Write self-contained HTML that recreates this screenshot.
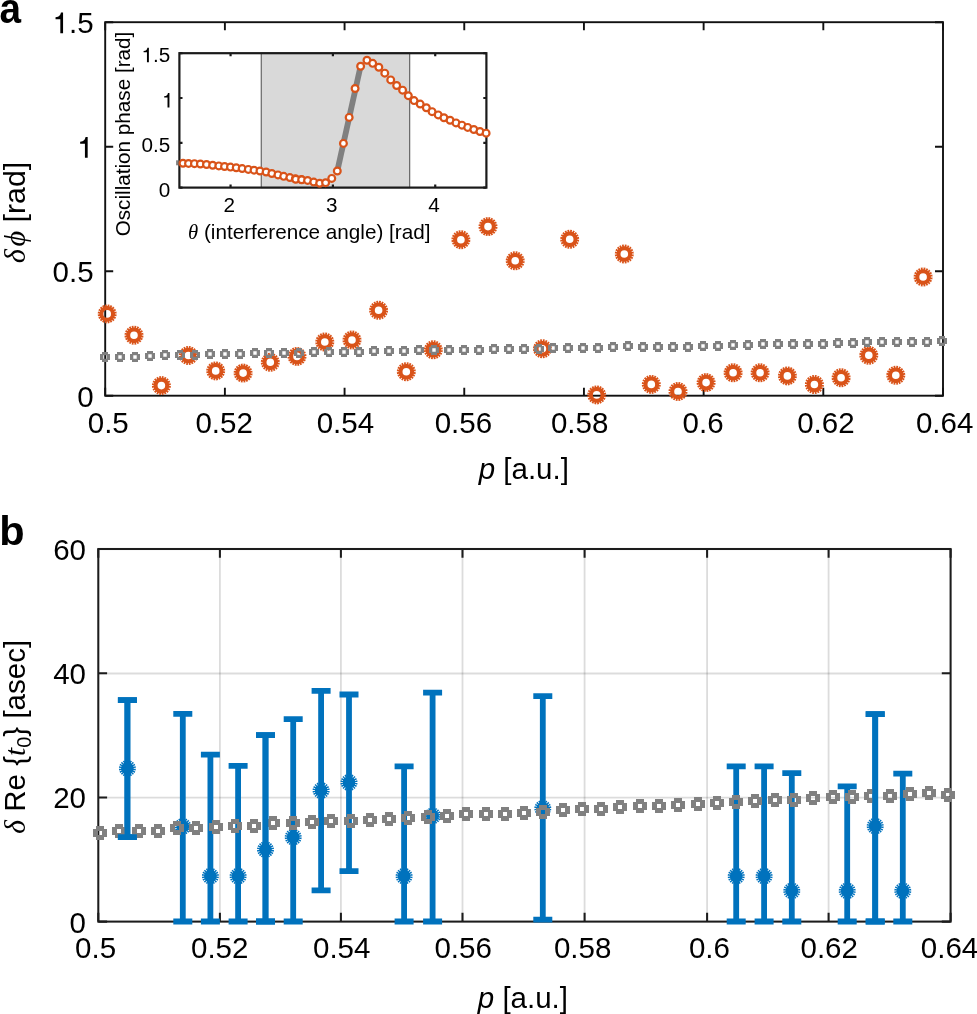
<!DOCTYPE html>
<html><head><meta charset="utf-8"><style>
html,body{margin:0;padding:0;background:#fff;width:977px;height:1014px;overflow:hidden;}
svg{display:block;will-change:transform;}
</style></head><body>
<svg width="977" height="1014" viewBox="0 0 977 1014">
<rect width="977" height="1014" fill="#fff"/>
<g fill="none" stroke="#111" stroke-width="1.9" stroke-linecap="square">
<rect x="105.2" y="22.2" width="837.8" height="373.5"/>
<path d="M105.2,395.7v-8 M105.2,22.2v8 M224.89,395.7v-8 M224.89,22.2v8 M344.57,395.7v-8 M344.57,22.2v8 M464.26,395.7v-8 M464.26,22.2v8 M583.94,395.7v-8 M583.94,22.2v8 M703.63,395.7v-8 M703.63,22.2v8 M823.31,395.7v-8 M823.31,22.2v8 M943,395.7v-8 M943,22.2v8 M105.2,395.7h8 M943,395.7h-8 M105.2,271.2h8 M943,271.2h-8 M105.2,146.7h8 M943,146.7h-8 M105.2,22.2h8 M943,22.2h-8 " stroke-linecap="butt"/>
</g>
<path d="M116.69,314.41 L116.38,316.35 L114.74,315.91 L114.48,316.70 L116.07,317.31 L115.17,319.07 L113.75,318.14 L113.26,318.82 L114.58,319.89 L113.19,321.28 L112.12,319.96 L111.44,320.45 L112.37,321.87 L110.61,322.77 L110.00,321.18 L109.21,321.44 L109.65,323.08 L107.71,323.39 L107.62,321.69 L106.78,321.69 L106.69,323.39 L104.75,323.08 L105.19,321.44 L104.40,321.18 L103.79,322.77 L102.03,321.87 L102.96,320.45 L102.28,319.96 L101.21,321.28 L99.82,319.89 L101.14,318.82 L100.65,318.14 L99.23,319.07 L98.33,317.31 L99.92,316.70 L99.66,315.91 L98.02,316.35 L97.71,314.41 L99.41,314.32 L99.41,313.48 L97.71,313.39 L98.02,311.45 L99.66,311.89 L99.92,311.10 L98.33,310.49 L99.23,308.73 L100.65,309.66 L101.14,308.98 L99.82,307.91 L101.21,306.52 L102.28,307.84 L102.96,307.35 L102.03,305.93 L103.79,305.03 L104.40,306.62 L105.19,306.36 L104.75,304.72 L106.69,304.41 L106.78,306.11 L107.62,306.11 L107.71,304.41 L109.65,304.72 L109.21,306.36 L110.00,306.62 L110.61,305.03 L112.37,305.93 L111.44,307.35 L112.12,307.84 L113.19,306.52 L114.58,307.91 L113.26,308.98 L113.75,309.66 L115.17,308.73 L116.07,310.49 L114.48,311.10 L114.74,311.89 L116.38,311.45 L116.69,313.39 L114.99,313.48 L114.99,314.32 Z M103.40,313.90 a3.80,3.80 0 1,0 7.60,0 a3.80,3.80 0 1,0 -7.60,0 Z" fill="#D95319" fill-rule="evenodd"/>
<path d="M143.49,335.71 L143.18,337.65 L141.54,337.21 L141.28,338.00 L142.87,338.61 L141.97,340.37 L140.55,339.44 L140.06,340.12 L141.38,341.19 L139.99,342.58 L138.92,341.26 L138.24,341.75 L139.17,343.17 L137.41,344.07 L136.80,342.48 L136.01,342.74 L136.45,344.38 L134.51,344.69 L134.42,342.99 L133.58,342.99 L133.49,344.69 L131.55,344.38 L131.99,342.74 L131.20,342.48 L130.59,344.07 L128.83,343.17 L129.76,341.75 L129.08,341.26 L128.01,342.58 L126.62,341.19 L127.94,340.12 L127.45,339.44 L126.03,340.37 L125.13,338.61 L126.72,338.00 L126.46,337.21 L124.82,337.65 L124.51,335.71 L126.21,335.62 L126.21,334.78 L124.51,334.69 L124.82,332.75 L126.46,333.19 L126.72,332.40 L125.13,331.79 L126.03,330.03 L127.45,330.96 L127.94,330.28 L126.62,329.21 L128.01,327.82 L129.08,329.14 L129.76,328.65 L128.83,327.23 L130.59,326.33 L131.20,327.92 L131.99,327.66 L131.55,326.02 L133.49,325.71 L133.58,327.41 L134.42,327.41 L134.51,325.71 L136.45,326.02 L136.01,327.66 L136.80,327.92 L137.41,326.33 L139.17,327.23 L138.24,328.65 L138.92,329.14 L139.99,327.82 L141.38,329.21 L140.06,330.28 L140.55,330.96 L141.97,330.03 L142.87,331.79 L141.28,332.40 L141.54,333.19 L143.18,332.75 L143.49,334.69 L141.79,334.78 L141.79,335.62 Z M130.20,335.20 a3.80,3.80 0 1,0 7.60,0 a3.80,3.80 0 1,0 -7.60,0 Z" fill="#D95319" fill-rule="evenodd"/>
<path d="M170.89,386.11 L170.58,388.05 L168.94,387.61 L168.68,388.40 L170.27,389.01 L169.37,390.77 L167.95,389.84 L167.46,390.52 L168.78,391.59 L167.39,392.98 L166.32,391.66 L165.64,392.15 L166.57,393.57 L164.81,394.47 L164.20,392.88 L163.41,393.14 L163.85,394.78 L161.91,395.09 L161.82,393.39 L160.98,393.39 L160.89,395.09 L158.95,394.78 L159.39,393.14 L158.60,392.88 L157.99,394.47 L156.23,393.57 L157.16,392.15 L156.48,391.66 L155.41,392.98 L154.02,391.59 L155.34,390.52 L154.85,389.84 L153.43,390.77 L152.53,389.01 L154.12,388.40 L153.86,387.61 L152.22,388.05 L151.91,386.11 L153.61,386.02 L153.61,385.18 L151.91,385.09 L152.22,383.15 L153.86,383.59 L154.12,382.80 L152.53,382.19 L153.43,380.43 L154.85,381.36 L155.34,380.68 L154.02,379.61 L155.41,378.22 L156.48,379.54 L157.16,379.05 L156.23,377.63 L157.99,376.73 L158.60,378.32 L159.39,378.06 L158.95,376.42 L160.89,376.11 L160.98,377.81 L161.82,377.81 L161.91,376.11 L163.85,376.42 L163.41,378.06 L164.20,378.32 L164.81,376.73 L166.57,377.63 L165.64,379.05 L166.32,379.54 L167.39,378.22 L168.78,379.61 L167.46,380.68 L167.95,381.36 L169.37,380.43 L170.27,382.19 L168.68,382.80 L168.94,383.59 L170.58,383.15 L170.89,385.09 L169.19,385.18 L169.19,386.02 Z M157.60,385.60 a3.80,3.80 0 1,0 7.60,0 a3.80,3.80 0 1,0 -7.60,0 Z" fill="#D95319" fill-rule="evenodd"/>
<path d="M197.89,356.01 L197.58,357.95 L195.94,357.51 L195.68,358.30 L197.27,358.91 L196.37,360.67 L194.95,359.74 L194.46,360.42 L195.78,361.49 L194.39,362.88 L193.32,361.56 L192.64,362.05 L193.57,363.47 L191.81,364.37 L191.20,362.78 L190.41,363.04 L190.85,364.68 L188.91,364.99 L188.82,363.29 L187.98,363.29 L187.89,364.99 L185.95,364.68 L186.39,363.04 L185.60,362.78 L184.99,364.37 L183.23,363.47 L184.16,362.05 L183.48,361.56 L182.41,362.88 L181.02,361.49 L182.34,360.42 L181.85,359.74 L180.43,360.67 L179.53,358.91 L181.12,358.30 L180.86,357.51 L179.22,357.95 L178.91,356.01 L180.61,355.92 L180.61,355.08 L178.91,354.99 L179.22,353.05 L180.86,353.49 L181.12,352.70 L179.53,352.09 L180.43,350.33 L181.85,351.26 L182.34,350.58 L181.02,349.51 L182.41,348.12 L183.48,349.44 L184.16,348.95 L183.23,347.53 L184.99,346.63 L185.60,348.22 L186.39,347.96 L185.95,346.32 L187.89,346.01 L187.98,347.71 L188.82,347.71 L188.91,346.01 L190.85,346.32 L190.41,347.96 L191.20,348.22 L191.81,346.63 L193.57,347.53 L192.64,348.95 L193.32,349.44 L194.39,348.12 L195.78,349.51 L194.46,350.58 L194.95,351.26 L196.37,350.33 L197.27,352.09 L195.68,352.70 L195.94,353.49 L197.58,353.05 L197.89,354.99 L196.19,355.08 L196.19,355.92 Z M184.60,355.50 a3.80,3.80 0 1,0 7.60,0 a3.80,3.80 0 1,0 -7.60,0 Z" fill="#D95319" fill-rule="evenodd"/>
<path d="M225.19,371.41 L224.88,373.35 L223.24,372.91 L222.98,373.70 L224.57,374.31 L223.67,376.07 L222.25,375.14 L221.76,375.82 L223.08,376.89 L221.69,378.28 L220.62,376.96 L219.94,377.45 L220.87,378.87 L219.11,379.77 L218.50,378.18 L217.71,378.44 L218.15,380.08 L216.21,380.39 L216.12,378.69 L215.28,378.69 L215.19,380.39 L213.25,380.08 L213.69,378.44 L212.90,378.18 L212.29,379.77 L210.53,378.87 L211.46,377.45 L210.78,376.96 L209.71,378.28 L208.32,376.89 L209.64,375.82 L209.15,375.14 L207.73,376.07 L206.83,374.31 L208.42,373.70 L208.16,372.91 L206.52,373.35 L206.21,371.41 L207.91,371.32 L207.91,370.48 L206.21,370.39 L206.52,368.45 L208.16,368.89 L208.42,368.10 L206.83,367.49 L207.73,365.73 L209.15,366.66 L209.64,365.98 L208.32,364.91 L209.71,363.52 L210.78,364.84 L211.46,364.35 L210.53,362.93 L212.29,362.03 L212.90,363.62 L213.69,363.36 L213.25,361.72 L215.19,361.41 L215.28,363.11 L216.12,363.11 L216.21,361.41 L218.15,361.72 L217.71,363.36 L218.50,363.62 L219.11,362.03 L220.87,362.93 L219.94,364.35 L220.62,364.84 L221.69,363.52 L223.08,364.91 L221.76,365.98 L222.25,366.66 L223.67,365.73 L224.57,367.49 L222.98,368.10 L223.24,368.89 L224.88,368.45 L225.19,370.39 L223.49,370.48 L223.49,371.32 Z M211.90,370.90 a3.80,3.80 0 1,0 7.60,0 a3.80,3.80 0 1,0 -7.60,0 Z" fill="#D95319" fill-rule="evenodd"/>
<path d="M252.59,373.61 L252.28,375.55 L250.64,375.11 L250.38,375.90 L251.97,376.51 L251.07,378.27 L249.65,377.34 L249.16,378.02 L250.48,379.09 L249.09,380.48 L248.02,379.16 L247.34,379.65 L248.27,381.07 L246.51,381.97 L245.90,380.38 L245.11,380.64 L245.55,382.28 L243.61,382.59 L243.52,380.89 L242.68,380.89 L242.59,382.59 L240.65,382.28 L241.09,380.64 L240.30,380.38 L239.69,381.97 L237.93,381.07 L238.86,379.65 L238.18,379.16 L237.11,380.48 L235.72,379.09 L237.04,378.02 L236.55,377.34 L235.13,378.27 L234.23,376.51 L235.82,375.90 L235.56,375.11 L233.92,375.55 L233.61,373.61 L235.31,373.52 L235.31,372.68 L233.61,372.59 L233.92,370.65 L235.56,371.09 L235.82,370.30 L234.23,369.69 L235.13,367.93 L236.55,368.86 L237.04,368.18 L235.72,367.11 L237.11,365.72 L238.18,367.04 L238.86,366.55 L237.93,365.13 L239.69,364.23 L240.30,365.82 L241.09,365.56 L240.65,363.92 L242.59,363.61 L242.68,365.31 L243.52,365.31 L243.61,363.61 L245.55,363.92 L245.11,365.56 L245.90,365.82 L246.51,364.23 L248.27,365.13 L247.34,366.55 L248.02,367.04 L249.09,365.72 L250.48,367.11 L249.16,368.18 L249.65,368.86 L251.07,367.93 L251.97,369.69 L250.38,370.30 L250.64,371.09 L252.28,370.65 L252.59,372.59 L250.89,372.68 L250.89,373.52 Z M239.30,373.10 a3.80,3.80 0 1,0 7.60,0 a3.80,3.80 0 1,0 -7.60,0 Z" fill="#D95319" fill-rule="evenodd"/>
<path d="M279.79,362.81 L279.48,364.75 L277.84,364.31 L277.58,365.10 L279.17,365.71 L278.27,367.47 L276.85,366.54 L276.36,367.22 L277.68,368.29 L276.29,369.68 L275.22,368.36 L274.54,368.85 L275.47,370.27 L273.71,371.17 L273.10,369.58 L272.31,369.84 L272.75,371.48 L270.81,371.79 L270.72,370.09 L269.88,370.09 L269.79,371.79 L267.85,371.48 L268.29,369.84 L267.50,369.58 L266.89,371.17 L265.13,370.27 L266.06,368.85 L265.38,368.36 L264.31,369.68 L262.92,368.29 L264.24,367.22 L263.75,366.54 L262.33,367.47 L261.43,365.71 L263.02,365.10 L262.76,364.31 L261.12,364.75 L260.81,362.81 L262.51,362.72 L262.51,361.88 L260.81,361.79 L261.12,359.85 L262.76,360.29 L263.02,359.50 L261.43,358.89 L262.33,357.13 L263.75,358.06 L264.24,357.38 L262.92,356.31 L264.31,354.92 L265.38,356.24 L266.06,355.75 L265.13,354.33 L266.89,353.43 L267.50,355.02 L268.29,354.76 L267.85,353.12 L269.79,352.81 L269.88,354.51 L270.72,354.51 L270.81,352.81 L272.75,353.12 L272.31,354.76 L273.10,355.02 L273.71,353.43 L275.47,354.33 L274.54,355.75 L275.22,356.24 L276.29,354.92 L277.68,356.31 L276.36,357.38 L276.85,358.06 L278.27,357.13 L279.17,358.89 L277.58,359.50 L277.84,360.29 L279.48,359.85 L279.79,361.79 L278.09,361.88 L278.09,362.72 Z M266.50,362.30 a3.80,3.80 0 1,0 7.60,0 a3.80,3.80 0 1,0 -7.60,0 Z" fill="#D95319" fill-rule="evenodd"/>
<path d="M306.49,356.91 L306.18,358.85 L304.54,358.41 L304.28,359.20 L305.87,359.81 L304.97,361.57 L303.55,360.64 L303.06,361.32 L304.38,362.39 L302.99,363.78 L301.92,362.46 L301.24,362.95 L302.17,364.37 L300.41,365.27 L299.80,363.68 L299.01,363.94 L299.45,365.58 L297.51,365.89 L297.42,364.19 L296.58,364.19 L296.49,365.89 L294.55,365.58 L294.99,363.94 L294.20,363.68 L293.59,365.27 L291.83,364.37 L292.76,362.95 L292.08,362.46 L291.01,363.78 L289.62,362.39 L290.94,361.32 L290.45,360.64 L289.03,361.57 L288.13,359.81 L289.72,359.20 L289.46,358.41 L287.82,358.85 L287.51,356.91 L289.21,356.82 L289.21,355.98 L287.51,355.89 L287.82,353.95 L289.46,354.39 L289.72,353.60 L288.13,352.99 L289.03,351.23 L290.45,352.16 L290.94,351.48 L289.62,350.41 L291.01,349.02 L292.08,350.34 L292.76,349.85 L291.83,348.43 L293.59,347.53 L294.20,349.12 L294.99,348.86 L294.55,347.22 L296.49,346.91 L296.58,348.61 L297.42,348.61 L297.51,346.91 L299.45,347.22 L299.01,348.86 L299.80,349.12 L300.41,347.53 L302.17,348.43 L301.24,349.85 L301.92,350.34 L302.99,349.02 L304.38,350.41 L303.06,351.48 L303.55,352.16 L304.97,351.23 L305.87,352.99 L304.28,353.60 L304.54,354.39 L306.18,353.95 L306.49,355.89 L304.79,355.98 L304.79,356.82 Z M293.20,356.40 a3.80,3.80 0 1,0 7.60,0 a3.80,3.80 0 1,0 -7.60,0 Z" fill="#D95319" fill-rule="evenodd"/>
<path d="M334.29,342.51 L333.98,344.45 L332.34,344.01 L332.08,344.80 L333.67,345.41 L332.77,347.17 L331.35,346.24 L330.86,346.92 L332.18,347.99 L330.79,349.38 L329.72,348.06 L329.04,348.55 L329.97,349.97 L328.21,350.87 L327.60,349.28 L326.81,349.54 L327.25,351.18 L325.31,351.49 L325.22,349.79 L324.38,349.79 L324.29,351.49 L322.35,351.18 L322.79,349.54 L322.00,349.28 L321.39,350.87 L319.63,349.97 L320.56,348.55 L319.88,348.06 L318.81,349.38 L317.42,347.99 L318.74,346.92 L318.25,346.24 L316.83,347.17 L315.93,345.41 L317.52,344.80 L317.26,344.01 L315.62,344.45 L315.31,342.51 L317.01,342.42 L317.01,341.58 L315.31,341.49 L315.62,339.55 L317.26,339.99 L317.52,339.20 L315.93,338.59 L316.83,336.83 L318.25,337.76 L318.74,337.08 L317.42,336.01 L318.81,334.62 L319.88,335.94 L320.56,335.45 L319.63,334.03 L321.39,333.13 L322.00,334.72 L322.79,334.46 L322.35,332.82 L324.29,332.51 L324.38,334.21 L325.22,334.21 L325.31,332.51 L327.25,332.82 L326.81,334.46 L327.60,334.72 L328.21,333.13 L329.97,334.03 L329.04,335.45 L329.72,335.94 L330.79,334.62 L332.18,336.01 L330.86,337.08 L331.35,337.76 L332.77,336.83 L333.67,338.59 L332.08,339.20 L332.34,339.99 L333.98,339.55 L334.29,341.49 L332.59,341.58 L332.59,342.42 Z M321.00,342.00 a3.80,3.80 0 1,0 7.60,0 a3.80,3.80 0 1,0 -7.60,0 Z" fill="#D95319" fill-rule="evenodd"/>
<path d="M361.49,340.51 L361.18,342.45 L359.54,342.01 L359.28,342.80 L360.87,343.41 L359.97,345.17 L358.55,344.24 L358.06,344.92 L359.38,345.99 L357.99,347.38 L356.92,346.06 L356.24,346.55 L357.17,347.97 L355.41,348.87 L354.80,347.28 L354.01,347.54 L354.45,349.18 L352.51,349.49 L352.42,347.79 L351.58,347.79 L351.49,349.49 L349.55,349.18 L349.99,347.54 L349.20,347.28 L348.59,348.87 L346.83,347.97 L347.76,346.55 L347.08,346.06 L346.01,347.38 L344.62,345.99 L345.94,344.92 L345.45,344.24 L344.03,345.17 L343.13,343.41 L344.72,342.80 L344.46,342.01 L342.82,342.45 L342.51,340.51 L344.21,340.42 L344.21,339.58 L342.51,339.49 L342.82,337.55 L344.46,337.99 L344.72,337.20 L343.13,336.59 L344.03,334.83 L345.45,335.76 L345.94,335.08 L344.62,334.01 L346.01,332.62 L347.08,333.94 L347.76,333.45 L346.83,332.03 L348.59,331.13 L349.20,332.72 L349.99,332.46 L349.55,330.82 L351.49,330.51 L351.58,332.21 L352.42,332.21 L352.51,330.51 L354.45,330.82 L354.01,332.46 L354.80,332.72 L355.41,331.13 L357.17,332.03 L356.24,333.45 L356.92,333.94 L357.99,332.62 L359.38,334.01 L358.06,335.08 L358.55,335.76 L359.97,334.83 L360.87,336.59 L359.28,337.20 L359.54,337.99 L361.18,337.55 L361.49,339.49 L359.79,339.58 L359.79,340.42 Z M348.20,340.00 a3.80,3.80 0 1,0 7.60,0 a3.80,3.80 0 1,0 -7.60,0 Z" fill="#D95319" fill-rule="evenodd"/>
<path d="M388.09,310.81 L387.78,312.75 L386.14,312.31 L385.88,313.10 L387.47,313.71 L386.57,315.47 L385.15,314.54 L384.66,315.22 L385.98,316.29 L384.59,317.68 L383.52,316.36 L382.84,316.85 L383.77,318.27 L382.01,319.17 L381.40,317.58 L380.61,317.84 L381.05,319.48 L379.11,319.79 L379.02,318.09 L378.18,318.09 L378.09,319.79 L376.15,319.48 L376.59,317.84 L375.80,317.58 L375.19,319.17 L373.43,318.27 L374.36,316.85 L373.68,316.36 L372.61,317.68 L371.22,316.29 L372.54,315.22 L372.05,314.54 L370.63,315.47 L369.73,313.71 L371.32,313.10 L371.06,312.31 L369.42,312.75 L369.11,310.81 L370.81,310.72 L370.81,309.88 L369.11,309.79 L369.42,307.85 L371.06,308.29 L371.32,307.50 L369.73,306.89 L370.63,305.13 L372.05,306.06 L372.54,305.38 L371.22,304.31 L372.61,302.92 L373.68,304.24 L374.36,303.75 L373.43,302.33 L375.19,301.43 L375.80,303.02 L376.59,302.76 L376.15,301.12 L378.09,300.81 L378.18,302.51 L379.02,302.51 L379.11,300.81 L381.05,301.12 L380.61,302.76 L381.40,303.02 L382.01,301.43 L383.77,302.33 L382.84,303.75 L383.52,304.24 L384.59,302.92 L385.98,304.31 L384.66,305.38 L385.15,306.06 L386.57,305.13 L387.47,306.89 L385.88,307.50 L386.14,308.29 L387.78,307.85 L388.09,309.79 L386.39,309.88 L386.39,310.72 Z M374.80,310.30 a3.80,3.80 0 1,0 7.60,0 a3.80,3.80 0 1,0 -7.60,0 Z" fill="#D95319" fill-rule="evenodd"/>
<path d="M415.79,372.21 L415.48,374.15 L413.84,373.71 L413.58,374.50 L415.17,375.11 L414.27,376.87 L412.85,375.94 L412.36,376.62 L413.68,377.69 L412.29,379.08 L411.22,377.76 L410.54,378.25 L411.47,379.67 L409.71,380.57 L409.10,378.98 L408.31,379.24 L408.75,380.88 L406.81,381.19 L406.72,379.49 L405.88,379.49 L405.79,381.19 L403.85,380.88 L404.29,379.24 L403.50,378.98 L402.89,380.57 L401.13,379.67 L402.06,378.25 L401.38,377.76 L400.31,379.08 L398.92,377.69 L400.24,376.62 L399.75,375.94 L398.33,376.87 L397.43,375.11 L399.02,374.50 L398.76,373.71 L397.12,374.15 L396.81,372.21 L398.51,372.12 L398.51,371.28 L396.81,371.19 L397.12,369.25 L398.76,369.69 L399.02,368.90 L397.43,368.29 L398.33,366.53 L399.75,367.46 L400.24,366.78 L398.92,365.71 L400.31,364.32 L401.38,365.64 L402.06,365.15 L401.13,363.73 L402.89,362.83 L403.50,364.42 L404.29,364.16 L403.85,362.52 L405.79,362.21 L405.88,363.91 L406.72,363.91 L406.81,362.21 L408.75,362.52 L408.31,364.16 L409.10,364.42 L409.71,362.83 L411.47,363.73 L410.54,365.15 L411.22,365.64 L412.29,364.32 L413.68,365.71 L412.36,366.78 L412.85,367.46 L414.27,366.53 L415.17,368.29 L413.58,368.90 L413.84,369.69 L415.48,369.25 L415.79,371.19 L414.09,371.28 L414.09,372.12 Z M402.50,371.70 a3.80,3.80 0 1,0 7.60,0 a3.80,3.80 0 1,0 -7.60,0 Z" fill="#D95319" fill-rule="evenodd"/>
<path d="M442.79,350.31 L442.48,352.25 L440.84,351.81 L440.58,352.60 L442.17,353.21 L441.27,354.97 L439.85,354.04 L439.36,354.72 L440.68,355.79 L439.29,357.18 L438.22,355.86 L437.54,356.35 L438.47,357.77 L436.71,358.67 L436.10,357.08 L435.31,357.34 L435.75,358.98 L433.81,359.29 L433.72,357.59 L432.88,357.59 L432.79,359.29 L430.85,358.98 L431.29,357.34 L430.50,357.08 L429.89,358.67 L428.13,357.77 L429.06,356.35 L428.38,355.86 L427.31,357.18 L425.92,355.79 L427.24,354.72 L426.75,354.04 L425.33,354.97 L424.43,353.21 L426.02,352.60 L425.76,351.81 L424.12,352.25 L423.81,350.31 L425.51,350.22 L425.51,349.38 L423.81,349.29 L424.12,347.35 L425.76,347.79 L426.02,347.00 L424.43,346.39 L425.33,344.63 L426.75,345.56 L427.24,344.88 L425.92,343.81 L427.31,342.42 L428.38,343.74 L429.06,343.25 L428.13,341.83 L429.89,340.93 L430.50,342.52 L431.29,342.26 L430.85,340.62 L432.79,340.31 L432.88,342.01 L433.72,342.01 L433.81,340.31 L435.75,340.62 L435.31,342.26 L436.10,342.52 L436.71,340.93 L438.47,341.83 L437.54,343.25 L438.22,343.74 L439.29,342.42 L440.68,343.81 L439.36,344.88 L439.85,345.56 L441.27,344.63 L442.17,346.39 L440.58,347.00 L440.84,347.79 L442.48,347.35 L442.79,349.29 L441.09,349.38 L441.09,350.22 Z M429.50,349.80 a3.80,3.80 0 1,0 7.60,0 a3.80,3.80 0 1,0 -7.60,0 Z" fill="#D95319" fill-rule="evenodd"/>
<path d="M470.39,240.21 L470.08,242.15 L468.44,241.71 L468.18,242.50 L469.77,243.11 L468.87,244.87 L467.45,243.94 L466.96,244.62 L468.28,245.69 L466.89,247.08 L465.82,245.76 L465.14,246.25 L466.07,247.67 L464.31,248.57 L463.70,246.98 L462.91,247.24 L463.35,248.88 L461.41,249.19 L461.32,247.49 L460.48,247.49 L460.39,249.19 L458.45,248.88 L458.89,247.24 L458.10,246.98 L457.49,248.57 L455.73,247.67 L456.66,246.25 L455.98,245.76 L454.91,247.08 L453.52,245.69 L454.84,244.62 L454.35,243.94 L452.93,244.87 L452.03,243.11 L453.62,242.50 L453.36,241.71 L451.72,242.15 L451.41,240.21 L453.11,240.12 L453.11,239.28 L451.41,239.19 L451.72,237.25 L453.36,237.69 L453.62,236.90 L452.03,236.29 L452.93,234.53 L454.35,235.46 L454.84,234.78 L453.52,233.71 L454.91,232.32 L455.98,233.64 L456.66,233.15 L455.73,231.73 L457.49,230.83 L458.10,232.42 L458.89,232.16 L458.45,230.52 L460.39,230.21 L460.48,231.91 L461.32,231.91 L461.41,230.21 L463.35,230.52 L462.91,232.16 L463.70,232.42 L464.31,230.83 L466.07,231.73 L465.14,233.15 L465.82,233.64 L466.89,232.32 L468.28,233.71 L466.96,234.78 L467.45,235.46 L468.87,234.53 L469.77,236.29 L468.18,236.90 L468.44,237.69 L470.08,237.25 L470.39,239.19 L468.69,239.28 L468.69,240.12 Z M457.10,239.70 a3.80,3.80 0 1,0 7.60,0 a3.80,3.80 0 1,0 -7.60,0 Z" fill="#D95319" fill-rule="evenodd"/>
<path d="M497.49,227.11 L497.18,229.05 L495.54,228.61 L495.28,229.40 L496.87,230.01 L495.97,231.77 L494.55,230.84 L494.06,231.52 L495.38,232.59 L493.99,233.98 L492.92,232.66 L492.24,233.15 L493.17,234.57 L491.41,235.47 L490.80,233.88 L490.01,234.14 L490.45,235.78 L488.51,236.09 L488.42,234.39 L487.58,234.39 L487.49,236.09 L485.55,235.78 L485.99,234.14 L485.20,233.88 L484.59,235.47 L482.83,234.57 L483.76,233.15 L483.08,232.66 L482.01,233.98 L480.62,232.59 L481.94,231.52 L481.45,230.84 L480.03,231.77 L479.13,230.01 L480.72,229.40 L480.46,228.61 L478.82,229.05 L478.51,227.11 L480.21,227.02 L480.21,226.18 L478.51,226.09 L478.82,224.15 L480.46,224.59 L480.72,223.80 L479.13,223.19 L480.03,221.43 L481.45,222.36 L481.94,221.68 L480.62,220.61 L482.01,219.22 L483.08,220.54 L483.76,220.05 L482.83,218.63 L484.59,217.73 L485.20,219.32 L485.99,219.06 L485.55,217.42 L487.49,217.11 L487.58,218.81 L488.42,218.81 L488.51,217.11 L490.45,217.42 L490.01,219.06 L490.80,219.32 L491.41,217.73 L493.17,218.63 L492.24,220.05 L492.92,220.54 L493.99,219.22 L495.38,220.61 L494.06,221.68 L494.55,222.36 L495.97,221.43 L496.87,223.19 L495.28,223.80 L495.54,224.59 L497.18,224.15 L497.49,226.09 L495.79,226.18 L495.79,227.02 Z M484.20,226.60 a3.80,3.80 0 1,0 7.60,0 a3.80,3.80 0 1,0 -7.60,0 Z" fill="#D95319" fill-rule="evenodd"/>
<path d="M524.69,261.31 L524.38,263.25 L522.74,262.81 L522.48,263.60 L524.07,264.21 L523.17,265.97 L521.75,265.04 L521.26,265.72 L522.58,266.79 L521.19,268.18 L520.12,266.86 L519.44,267.35 L520.37,268.77 L518.61,269.67 L518.00,268.08 L517.21,268.34 L517.65,269.98 L515.71,270.29 L515.62,268.59 L514.78,268.59 L514.69,270.29 L512.75,269.98 L513.19,268.34 L512.40,268.08 L511.79,269.67 L510.03,268.77 L510.96,267.35 L510.28,266.86 L509.21,268.18 L507.82,266.79 L509.14,265.72 L508.65,265.04 L507.23,265.97 L506.33,264.21 L507.92,263.60 L507.66,262.81 L506.02,263.25 L505.71,261.31 L507.41,261.22 L507.41,260.38 L505.71,260.29 L506.02,258.35 L507.66,258.79 L507.92,258.00 L506.33,257.39 L507.23,255.63 L508.65,256.56 L509.14,255.88 L507.82,254.81 L509.21,253.42 L510.28,254.74 L510.96,254.25 L510.03,252.83 L511.79,251.93 L512.40,253.52 L513.19,253.26 L512.75,251.62 L514.69,251.31 L514.78,253.01 L515.62,253.01 L515.71,251.31 L517.65,251.62 L517.21,253.26 L518.00,253.52 L518.61,251.93 L520.37,252.83 L519.44,254.25 L520.12,254.74 L521.19,253.42 L522.58,254.81 L521.26,255.88 L521.75,256.56 L523.17,255.63 L524.07,257.39 L522.48,258.00 L522.74,258.79 L524.38,258.35 L524.69,260.29 L522.99,260.38 L522.99,261.22 Z M511.40,260.80 a3.80,3.80 0 1,0 7.60,0 a3.80,3.80 0 1,0 -7.60,0 Z" fill="#D95319" fill-rule="evenodd"/>
<path d="M551.89,349.31 L551.58,351.25 L549.94,350.81 L549.68,351.60 L551.27,352.21 L550.37,353.97 L548.95,353.04 L548.46,353.72 L549.78,354.79 L548.39,356.18 L547.32,354.86 L546.64,355.35 L547.57,356.77 L545.81,357.67 L545.20,356.08 L544.41,356.34 L544.85,357.98 L542.91,358.29 L542.82,356.59 L541.98,356.59 L541.89,358.29 L539.95,357.98 L540.39,356.34 L539.60,356.08 L538.99,357.67 L537.23,356.77 L538.16,355.35 L537.48,354.86 L536.41,356.18 L535.02,354.79 L536.34,353.72 L535.85,353.04 L534.43,353.97 L533.53,352.21 L535.12,351.60 L534.86,350.81 L533.22,351.25 L532.91,349.31 L534.61,349.22 L534.61,348.38 L532.91,348.29 L533.22,346.35 L534.86,346.79 L535.12,346.00 L533.53,345.39 L534.43,343.63 L535.85,344.56 L536.34,343.88 L535.02,342.81 L536.41,341.42 L537.48,342.74 L538.16,342.25 L537.23,340.83 L538.99,339.93 L539.60,341.52 L540.39,341.26 L539.95,339.62 L541.89,339.31 L541.98,341.01 L542.82,341.01 L542.91,339.31 L544.85,339.62 L544.41,341.26 L545.20,341.52 L545.81,339.93 L547.57,340.83 L546.64,342.25 L547.32,342.74 L548.39,341.42 L549.78,342.81 L548.46,343.88 L548.95,344.56 L550.37,343.63 L551.27,345.39 L549.68,346.00 L549.94,346.79 L551.58,346.35 L551.89,348.29 L550.19,348.38 L550.19,349.22 Z M538.60,348.80 a3.80,3.80 0 1,0 7.60,0 a3.80,3.80 0 1,0 -7.60,0 Z" fill="#D95319" fill-rule="evenodd"/>
<path d="M579.19,239.81 L578.88,241.75 L577.24,241.31 L576.98,242.10 L578.57,242.71 L577.67,244.47 L576.25,243.54 L575.76,244.22 L577.08,245.29 L575.69,246.68 L574.62,245.36 L573.94,245.85 L574.87,247.27 L573.11,248.17 L572.50,246.58 L571.71,246.84 L572.15,248.48 L570.21,248.79 L570.12,247.09 L569.28,247.09 L569.19,248.79 L567.25,248.48 L567.69,246.84 L566.90,246.58 L566.29,248.17 L564.53,247.27 L565.46,245.85 L564.78,245.36 L563.71,246.68 L562.32,245.29 L563.64,244.22 L563.15,243.54 L561.73,244.47 L560.83,242.71 L562.42,242.10 L562.16,241.31 L560.52,241.75 L560.21,239.81 L561.91,239.72 L561.91,238.88 L560.21,238.79 L560.52,236.85 L562.16,237.29 L562.42,236.50 L560.83,235.89 L561.73,234.13 L563.15,235.06 L563.64,234.38 L562.32,233.31 L563.71,231.92 L564.78,233.24 L565.46,232.75 L564.53,231.33 L566.29,230.43 L566.90,232.02 L567.69,231.76 L567.25,230.12 L569.19,229.81 L569.28,231.51 L570.12,231.51 L570.21,229.81 L572.15,230.12 L571.71,231.76 L572.50,232.02 L573.11,230.43 L574.87,231.33 L573.94,232.75 L574.62,233.24 L575.69,231.92 L577.08,233.31 L575.76,234.38 L576.25,235.06 L577.67,234.13 L578.57,235.89 L576.98,236.50 L577.24,237.29 L578.88,236.85 L579.19,238.79 L577.49,238.88 L577.49,239.72 Z M565.90,239.30 a3.80,3.80 0 1,0 7.60,0 a3.80,3.80 0 1,0 -7.60,0 Z" fill="#D95319" fill-rule="evenodd"/>
<path d="M606.19,395.41 L605.88,397.35 L604.24,396.91 L603.98,397.70 L605.57,398.31 L604.67,400.07 L603.25,399.14 L602.76,399.82 L604.08,400.89 L602.69,402.28 L601.62,400.96 L600.94,401.45 L601.87,402.87 L600.11,403.77 L599.50,402.18 L598.71,402.44 L599.15,404.08 L597.21,404.39 L597.12,402.69 L596.28,402.69 L596.19,404.39 L594.25,404.08 L594.69,402.44 L593.90,402.18 L593.29,403.77 L591.53,402.87 L592.46,401.45 L591.78,400.96 L590.71,402.28 L589.32,400.89 L590.64,399.82 L590.15,399.14 L588.73,400.07 L587.83,398.31 L589.42,397.70 L589.16,396.91 L587.52,397.35 L587.21,395.41 L588.91,395.32 L588.91,394.48 L587.21,394.39 L587.52,392.45 L589.16,392.89 L589.42,392.10 L587.83,391.49 L588.73,389.73 L590.15,390.66 L590.64,389.98 L589.32,388.91 L590.71,387.52 L591.78,388.84 L592.46,388.35 L591.53,386.93 L593.29,386.03 L593.90,387.62 L594.69,387.36 L594.25,385.72 L596.19,385.41 L596.28,387.11 L597.12,387.11 L597.21,385.41 L599.15,385.72 L598.71,387.36 L599.50,387.62 L600.11,386.03 L601.87,386.93 L600.94,388.35 L601.62,388.84 L602.69,387.52 L604.08,388.91 L602.76,389.98 L603.25,390.66 L604.67,389.73 L605.57,391.49 L603.98,392.10 L604.24,392.89 L605.88,392.45 L606.19,394.39 L604.49,394.48 L604.49,395.32 Z M592.90,394.90 a3.80,3.80 0 1,0 7.60,0 a3.80,3.80 0 1,0 -7.60,0 Z" fill="#D95319" fill-rule="evenodd"/>
<path d="M633.79,254.51 L633.48,256.45 L631.84,256.01 L631.58,256.80 L633.17,257.41 L632.27,259.17 L630.85,258.24 L630.36,258.92 L631.68,259.99 L630.29,261.38 L629.22,260.06 L628.54,260.55 L629.47,261.97 L627.71,262.87 L627.10,261.28 L626.31,261.54 L626.75,263.18 L624.81,263.49 L624.72,261.79 L623.88,261.79 L623.79,263.49 L621.85,263.18 L622.29,261.54 L621.50,261.28 L620.89,262.87 L619.13,261.97 L620.06,260.55 L619.38,260.06 L618.31,261.38 L616.92,259.99 L618.24,258.92 L617.75,258.24 L616.33,259.17 L615.43,257.41 L617.02,256.80 L616.76,256.01 L615.12,256.45 L614.81,254.51 L616.51,254.42 L616.51,253.58 L614.81,253.49 L615.12,251.55 L616.76,251.99 L617.02,251.20 L615.43,250.59 L616.33,248.83 L617.75,249.76 L618.24,249.08 L616.92,248.01 L618.31,246.62 L619.38,247.94 L620.06,247.45 L619.13,246.03 L620.89,245.13 L621.50,246.72 L622.29,246.46 L621.85,244.82 L623.79,244.51 L623.88,246.21 L624.72,246.21 L624.81,244.51 L626.75,244.82 L626.31,246.46 L627.10,246.72 L627.71,245.13 L629.47,246.03 L628.54,247.45 L629.22,247.94 L630.29,246.62 L631.68,248.01 L630.36,249.08 L630.85,249.76 L632.27,248.83 L633.17,250.59 L631.58,251.20 L631.84,251.99 L633.48,251.55 L633.79,253.49 L632.09,253.58 L632.09,254.42 Z M620.50,254.00 a3.80,3.80 0 1,0 7.60,0 a3.80,3.80 0 1,0 -7.60,0 Z" fill="#D95319" fill-rule="evenodd"/>
<path d="M660.79,384.91 L660.48,386.85 L658.84,386.41 L658.58,387.20 L660.17,387.81 L659.27,389.57 L657.85,388.64 L657.36,389.32 L658.68,390.39 L657.29,391.78 L656.22,390.46 L655.54,390.95 L656.47,392.37 L654.71,393.27 L654.10,391.68 L653.31,391.94 L653.75,393.58 L651.81,393.89 L651.72,392.19 L650.88,392.19 L650.79,393.89 L648.85,393.58 L649.29,391.94 L648.50,391.68 L647.89,393.27 L646.13,392.37 L647.06,390.95 L646.38,390.46 L645.31,391.78 L643.92,390.39 L645.24,389.32 L644.75,388.64 L643.33,389.57 L642.43,387.81 L644.02,387.20 L643.76,386.41 L642.12,386.85 L641.81,384.91 L643.51,384.82 L643.51,383.98 L641.81,383.89 L642.12,381.95 L643.76,382.39 L644.02,381.60 L642.43,380.99 L643.33,379.23 L644.75,380.16 L645.24,379.48 L643.92,378.41 L645.31,377.02 L646.38,378.34 L647.06,377.85 L646.13,376.43 L647.89,375.53 L648.50,377.12 L649.29,376.86 L648.85,375.22 L650.79,374.91 L650.88,376.61 L651.72,376.61 L651.81,374.91 L653.75,375.22 L653.31,376.86 L654.10,377.12 L654.71,375.53 L656.47,376.43 L655.54,377.85 L656.22,378.34 L657.29,377.02 L658.68,378.41 L657.36,379.48 L657.85,380.16 L659.27,379.23 L660.17,380.99 L658.58,381.60 L658.84,382.39 L660.48,381.95 L660.79,383.89 L659.09,383.98 L659.09,384.82 Z M647.50,384.40 a3.80,3.80 0 1,0 7.60,0 a3.80,3.80 0 1,0 -7.60,0 Z" fill="#D95319" fill-rule="evenodd"/>
<path d="M687.49,392.01 L687.18,393.95 L685.54,393.51 L685.28,394.30 L686.87,394.91 L685.97,396.67 L684.55,395.74 L684.06,396.42 L685.38,397.49 L683.99,398.88 L682.92,397.56 L682.24,398.05 L683.17,399.47 L681.41,400.37 L680.80,398.78 L680.01,399.04 L680.45,400.68 L678.51,400.99 L678.42,399.29 L677.58,399.29 L677.49,400.99 L675.55,400.68 L675.99,399.04 L675.20,398.78 L674.59,400.37 L672.83,399.47 L673.76,398.05 L673.08,397.56 L672.01,398.88 L670.62,397.49 L671.94,396.42 L671.45,395.74 L670.03,396.67 L669.13,394.91 L670.72,394.30 L670.46,393.51 L668.82,393.95 L668.51,392.01 L670.21,391.92 L670.21,391.08 L668.51,390.99 L668.82,389.05 L670.46,389.49 L670.72,388.70 L669.13,388.09 L670.03,386.33 L671.45,387.26 L671.94,386.58 L670.62,385.51 L672.01,384.12 L673.08,385.44 L673.76,384.95 L672.83,383.53 L674.59,382.63 L675.20,384.22 L675.99,383.96 L675.55,382.32 L677.49,382.01 L677.58,383.71 L678.42,383.71 L678.51,382.01 L680.45,382.32 L680.01,383.96 L680.80,384.22 L681.41,382.63 L683.17,383.53 L682.24,384.95 L682.92,385.44 L683.99,384.12 L685.38,385.51 L684.06,386.58 L684.55,387.26 L685.97,386.33 L686.87,388.09 L685.28,388.70 L685.54,389.49 L687.18,389.05 L687.49,390.99 L685.79,391.08 L685.79,391.92 Z M674.20,391.50 a3.80,3.80 0 1,0 7.60,0 a3.80,3.80 0 1,0 -7.60,0 Z" fill="#D95319" fill-rule="evenodd"/>
<path d="M715.59,383.11 L715.28,385.05 L713.64,384.61 L713.38,385.40 L714.97,386.01 L714.07,387.77 L712.65,386.84 L712.16,387.52 L713.48,388.59 L712.09,389.98 L711.02,388.66 L710.34,389.15 L711.27,390.57 L709.51,391.47 L708.90,389.88 L708.11,390.14 L708.55,391.78 L706.61,392.09 L706.52,390.39 L705.68,390.39 L705.59,392.09 L703.65,391.78 L704.09,390.14 L703.30,389.88 L702.69,391.47 L700.93,390.57 L701.86,389.15 L701.18,388.66 L700.11,389.98 L698.72,388.59 L700.04,387.52 L699.55,386.84 L698.13,387.77 L697.23,386.01 L698.82,385.40 L698.56,384.61 L696.92,385.05 L696.61,383.11 L698.31,383.02 L698.31,382.18 L696.61,382.09 L696.92,380.15 L698.56,380.59 L698.82,379.80 L697.23,379.19 L698.13,377.43 L699.55,378.36 L700.04,377.68 L698.72,376.61 L700.11,375.22 L701.18,376.54 L701.86,376.05 L700.93,374.63 L702.69,373.73 L703.30,375.32 L704.09,375.06 L703.65,373.42 L705.59,373.11 L705.68,374.81 L706.52,374.81 L706.61,373.11 L708.55,373.42 L708.11,375.06 L708.90,375.32 L709.51,373.73 L711.27,374.63 L710.34,376.05 L711.02,376.54 L712.09,375.22 L713.48,376.61 L712.16,377.68 L712.65,378.36 L714.07,377.43 L714.97,379.19 L713.38,379.80 L713.64,380.59 L715.28,380.15 L715.59,382.09 L713.89,382.18 L713.89,383.02 Z M702.30,382.60 a3.80,3.80 0 1,0 7.60,0 a3.80,3.80 0 1,0 -7.60,0 Z" fill="#D95319" fill-rule="evenodd"/>
<path d="M742.59,373.31 L742.28,375.25 L740.64,374.81 L740.38,375.60 L741.97,376.21 L741.07,377.97 L739.65,377.04 L739.16,377.72 L740.48,378.79 L739.09,380.18 L738.02,378.86 L737.34,379.35 L738.27,380.77 L736.51,381.67 L735.90,380.08 L735.11,380.34 L735.55,381.98 L733.61,382.29 L733.52,380.59 L732.68,380.59 L732.59,382.29 L730.65,381.98 L731.09,380.34 L730.30,380.08 L729.69,381.67 L727.93,380.77 L728.86,379.35 L728.18,378.86 L727.11,380.18 L725.72,378.79 L727.04,377.72 L726.55,377.04 L725.13,377.97 L724.23,376.21 L725.82,375.60 L725.56,374.81 L723.92,375.25 L723.61,373.31 L725.31,373.22 L725.31,372.38 L723.61,372.29 L723.92,370.35 L725.56,370.79 L725.82,370.00 L724.23,369.39 L725.13,367.63 L726.55,368.56 L727.04,367.88 L725.72,366.81 L727.11,365.42 L728.18,366.74 L728.86,366.25 L727.93,364.83 L729.69,363.93 L730.30,365.52 L731.09,365.26 L730.65,363.62 L732.59,363.31 L732.68,365.01 L733.52,365.01 L733.61,363.31 L735.55,363.62 L735.11,365.26 L735.90,365.52 L736.51,363.93 L738.27,364.83 L737.34,366.25 L738.02,366.74 L739.09,365.42 L740.48,366.81 L739.16,367.88 L739.65,368.56 L741.07,367.63 L741.97,369.39 L740.38,370.00 L740.64,370.79 L742.28,370.35 L742.59,372.29 L740.89,372.38 L740.89,373.22 Z M729.30,372.80 a3.80,3.80 0 1,0 7.60,0 a3.80,3.80 0 1,0 -7.60,0 Z" fill="#D95319" fill-rule="evenodd"/>
<path d="M769.59,373.31 L769.28,375.25 L767.64,374.81 L767.38,375.60 L768.97,376.21 L768.07,377.97 L766.65,377.04 L766.16,377.72 L767.48,378.79 L766.09,380.18 L765.02,378.86 L764.34,379.35 L765.27,380.77 L763.51,381.67 L762.90,380.08 L762.11,380.34 L762.55,381.98 L760.61,382.29 L760.52,380.59 L759.68,380.59 L759.59,382.29 L757.65,381.98 L758.09,380.34 L757.30,380.08 L756.69,381.67 L754.93,380.77 L755.86,379.35 L755.18,378.86 L754.11,380.18 L752.72,378.79 L754.04,377.72 L753.55,377.04 L752.13,377.97 L751.23,376.21 L752.82,375.60 L752.56,374.81 L750.92,375.25 L750.61,373.31 L752.31,373.22 L752.31,372.38 L750.61,372.29 L750.92,370.35 L752.56,370.79 L752.82,370.00 L751.23,369.39 L752.13,367.63 L753.55,368.56 L754.04,367.88 L752.72,366.81 L754.11,365.42 L755.18,366.74 L755.86,366.25 L754.93,364.83 L756.69,363.93 L757.30,365.52 L758.09,365.26 L757.65,363.62 L759.59,363.31 L759.68,365.01 L760.52,365.01 L760.61,363.31 L762.55,363.62 L762.11,365.26 L762.90,365.52 L763.51,363.93 L765.27,364.83 L764.34,366.25 L765.02,366.74 L766.09,365.42 L767.48,366.81 L766.16,367.88 L766.65,368.56 L768.07,367.63 L768.97,369.39 L767.38,370.00 L767.64,370.79 L769.28,370.35 L769.59,372.29 L767.89,372.38 L767.89,373.22 Z M756.30,372.80 a3.80,3.80 0 1,0 7.60,0 a3.80,3.80 0 1,0 -7.60,0 Z" fill="#D95319" fill-rule="evenodd"/>
<path d="M796.89,376.41 L796.58,378.35 L794.94,377.91 L794.68,378.70 L796.27,379.31 L795.37,381.07 L793.95,380.14 L793.46,380.82 L794.78,381.89 L793.39,383.28 L792.32,381.96 L791.64,382.45 L792.57,383.87 L790.81,384.77 L790.20,383.18 L789.41,383.44 L789.85,385.08 L787.91,385.39 L787.82,383.69 L786.98,383.69 L786.89,385.39 L784.95,385.08 L785.39,383.44 L784.60,383.18 L783.99,384.77 L782.23,383.87 L783.16,382.45 L782.48,381.96 L781.41,383.28 L780.02,381.89 L781.34,380.82 L780.85,380.14 L779.43,381.07 L778.53,379.31 L780.12,378.70 L779.86,377.91 L778.22,378.35 L777.91,376.41 L779.61,376.32 L779.61,375.48 L777.91,375.39 L778.22,373.45 L779.86,373.89 L780.12,373.10 L778.53,372.49 L779.43,370.73 L780.85,371.66 L781.34,370.98 L780.02,369.91 L781.41,368.52 L782.48,369.84 L783.16,369.35 L782.23,367.93 L783.99,367.03 L784.60,368.62 L785.39,368.36 L784.95,366.72 L786.89,366.41 L786.98,368.11 L787.82,368.11 L787.91,366.41 L789.85,366.72 L789.41,368.36 L790.20,368.62 L790.81,367.03 L792.57,367.93 L791.64,369.35 L792.32,369.84 L793.39,368.52 L794.78,369.91 L793.46,370.98 L793.95,371.66 L795.37,370.73 L796.27,372.49 L794.68,373.10 L794.94,373.89 L796.58,373.45 L796.89,375.39 L795.19,375.48 L795.19,376.32 Z M783.60,375.90 a3.80,3.80 0 1,0 7.60,0 a3.80,3.80 0 1,0 -7.60,0 Z" fill="#D95319" fill-rule="evenodd"/>
<path d="M823.89,385.01 L823.58,386.95 L821.94,386.51 L821.68,387.30 L823.27,387.91 L822.37,389.67 L820.95,388.74 L820.46,389.42 L821.78,390.49 L820.39,391.88 L819.32,390.56 L818.64,391.05 L819.57,392.47 L817.81,393.37 L817.20,391.78 L816.41,392.04 L816.85,393.68 L814.91,393.99 L814.82,392.29 L813.98,392.29 L813.89,393.99 L811.95,393.68 L812.39,392.04 L811.60,391.78 L810.99,393.37 L809.23,392.47 L810.16,391.05 L809.48,390.56 L808.41,391.88 L807.02,390.49 L808.34,389.42 L807.85,388.74 L806.43,389.67 L805.53,387.91 L807.12,387.30 L806.86,386.51 L805.22,386.95 L804.91,385.01 L806.61,384.92 L806.61,384.08 L804.91,383.99 L805.22,382.05 L806.86,382.49 L807.12,381.70 L805.53,381.09 L806.43,379.33 L807.85,380.26 L808.34,379.58 L807.02,378.51 L808.41,377.12 L809.48,378.44 L810.16,377.95 L809.23,376.53 L810.99,375.63 L811.60,377.22 L812.39,376.96 L811.95,375.32 L813.89,375.01 L813.98,376.71 L814.82,376.71 L814.91,375.01 L816.85,375.32 L816.41,376.96 L817.20,377.22 L817.81,375.63 L819.57,376.53 L818.64,377.95 L819.32,378.44 L820.39,377.12 L821.78,378.51 L820.46,379.58 L820.95,380.26 L822.37,379.33 L823.27,381.09 L821.68,381.70 L821.94,382.49 L823.58,382.05 L823.89,383.99 L822.19,384.08 L822.19,384.92 Z M810.60,384.50 a3.80,3.80 0 1,0 7.60,0 a3.80,3.80 0 1,0 -7.60,0 Z" fill="#D95319" fill-rule="evenodd"/>
<path d="M850.59,378.21 L850.28,380.15 L848.64,379.71 L848.38,380.50 L849.97,381.11 L849.07,382.87 L847.65,381.94 L847.16,382.62 L848.48,383.69 L847.09,385.08 L846.02,383.76 L845.34,384.25 L846.27,385.67 L844.51,386.57 L843.90,384.98 L843.11,385.24 L843.55,386.88 L841.61,387.19 L841.52,385.49 L840.68,385.49 L840.59,387.19 L838.65,386.88 L839.09,385.24 L838.30,384.98 L837.69,386.57 L835.93,385.67 L836.86,384.25 L836.18,383.76 L835.11,385.08 L833.72,383.69 L835.04,382.62 L834.55,381.94 L833.13,382.87 L832.23,381.11 L833.82,380.50 L833.56,379.71 L831.92,380.15 L831.61,378.21 L833.31,378.12 L833.31,377.28 L831.61,377.19 L831.92,375.25 L833.56,375.69 L833.82,374.90 L832.23,374.29 L833.13,372.53 L834.55,373.46 L835.04,372.78 L833.72,371.71 L835.11,370.32 L836.18,371.64 L836.86,371.15 L835.93,369.73 L837.69,368.83 L838.30,370.42 L839.09,370.16 L838.65,368.52 L840.59,368.21 L840.68,369.91 L841.52,369.91 L841.61,368.21 L843.55,368.52 L843.11,370.16 L843.90,370.42 L844.51,368.83 L846.27,369.73 L845.34,371.15 L846.02,371.64 L847.09,370.32 L848.48,371.71 L847.16,372.78 L847.65,373.46 L849.07,372.53 L849.97,374.29 L848.38,374.90 L848.64,375.69 L850.28,375.25 L850.59,377.19 L848.89,377.28 L848.89,378.12 Z M837.30,377.70 a3.80,3.80 0 1,0 7.60,0 a3.80,3.80 0 1,0 -7.60,0 Z" fill="#D95319" fill-rule="evenodd"/>
<path d="M878.29,355.81 L877.98,357.75 L876.34,357.31 L876.08,358.10 L877.67,358.71 L876.77,360.47 L875.35,359.54 L874.86,360.22 L876.18,361.29 L874.79,362.68 L873.72,361.36 L873.04,361.85 L873.97,363.27 L872.21,364.17 L871.60,362.58 L870.81,362.84 L871.25,364.48 L869.31,364.79 L869.22,363.09 L868.38,363.09 L868.29,364.79 L866.35,364.48 L866.79,362.84 L866.00,362.58 L865.39,364.17 L863.63,363.27 L864.56,361.85 L863.88,361.36 L862.81,362.68 L861.42,361.29 L862.74,360.22 L862.25,359.54 L860.83,360.47 L859.93,358.71 L861.52,358.10 L861.26,357.31 L859.62,357.75 L859.31,355.81 L861.01,355.72 L861.01,354.88 L859.31,354.79 L859.62,352.85 L861.26,353.29 L861.52,352.50 L859.93,351.89 L860.83,350.13 L862.25,351.06 L862.74,350.38 L861.42,349.31 L862.81,347.92 L863.88,349.24 L864.56,348.75 L863.63,347.33 L865.39,346.43 L866.00,348.02 L866.79,347.76 L866.35,346.12 L868.29,345.81 L868.38,347.51 L869.22,347.51 L869.31,345.81 L871.25,346.12 L870.81,347.76 L871.60,348.02 L872.21,346.43 L873.97,347.33 L873.04,348.75 L873.72,349.24 L874.79,347.92 L876.18,349.31 L874.86,350.38 L875.35,351.06 L876.77,350.13 L877.67,351.89 L876.08,352.50 L876.34,353.29 L877.98,352.85 L878.29,354.79 L876.59,354.88 L876.59,355.72 Z M865.00,355.30 a3.80,3.80 0 1,0 7.60,0 a3.80,3.80 0 1,0 -7.60,0 Z" fill="#D95319" fill-rule="evenodd"/>
<path d="M905.29,375.81 L904.98,377.75 L903.34,377.31 L903.08,378.10 L904.67,378.71 L903.77,380.47 L902.35,379.54 L901.86,380.22 L903.18,381.29 L901.79,382.68 L900.72,381.36 L900.04,381.85 L900.97,383.27 L899.21,384.17 L898.60,382.58 L897.81,382.84 L898.25,384.48 L896.31,384.79 L896.22,383.09 L895.38,383.09 L895.29,384.79 L893.35,384.48 L893.79,382.84 L893.00,382.58 L892.39,384.17 L890.63,383.27 L891.56,381.85 L890.88,381.36 L889.81,382.68 L888.42,381.29 L889.74,380.22 L889.25,379.54 L887.83,380.47 L886.93,378.71 L888.52,378.10 L888.26,377.31 L886.62,377.75 L886.31,375.81 L888.01,375.72 L888.01,374.88 L886.31,374.79 L886.62,372.85 L888.26,373.29 L888.52,372.50 L886.93,371.89 L887.83,370.13 L889.25,371.06 L889.74,370.38 L888.42,369.31 L889.81,367.92 L890.88,369.24 L891.56,368.75 L890.63,367.33 L892.39,366.43 L893.00,368.02 L893.79,367.76 L893.35,366.12 L895.29,365.81 L895.38,367.51 L896.22,367.51 L896.31,365.81 L898.25,366.12 L897.81,367.76 L898.60,368.02 L899.21,366.43 L900.97,367.33 L900.04,368.75 L900.72,369.24 L901.79,367.92 L903.18,369.31 L901.86,370.38 L902.35,371.06 L903.77,370.13 L904.67,371.89 L903.08,372.50 L903.34,373.29 L904.98,372.85 L905.29,374.79 L903.59,374.88 L903.59,375.72 Z M892.00,375.30 a3.80,3.80 0 1,0 7.60,0 a3.80,3.80 0 1,0 -7.60,0 Z" fill="#D95319" fill-rule="evenodd"/>
<path d="M932.59,277.51 L932.28,279.45 L930.64,279.01 L930.38,279.80 L931.97,280.41 L931.07,282.17 L929.65,281.24 L929.16,281.92 L930.48,282.99 L929.09,284.38 L928.02,283.06 L927.34,283.55 L928.27,284.97 L926.51,285.87 L925.90,284.28 L925.11,284.54 L925.55,286.18 L923.61,286.49 L923.52,284.79 L922.68,284.79 L922.59,286.49 L920.65,286.18 L921.09,284.54 L920.30,284.28 L919.69,285.87 L917.93,284.97 L918.86,283.55 L918.18,283.06 L917.11,284.38 L915.72,282.99 L917.04,281.92 L916.55,281.24 L915.13,282.17 L914.23,280.41 L915.82,279.80 L915.56,279.01 L913.92,279.45 L913.61,277.51 L915.31,277.42 L915.31,276.58 L913.61,276.49 L913.92,274.55 L915.56,274.99 L915.82,274.20 L914.23,273.59 L915.13,271.83 L916.55,272.76 L917.04,272.08 L915.72,271.01 L917.11,269.62 L918.18,270.94 L918.86,270.45 L917.93,269.03 L919.69,268.13 L920.30,269.72 L921.09,269.46 L920.65,267.82 L922.59,267.51 L922.68,269.21 L923.52,269.21 L923.61,267.51 L925.55,267.82 L925.11,269.46 L925.90,269.72 L926.51,268.13 L928.27,269.03 L927.34,270.45 L928.02,270.94 L929.09,269.62 L930.48,271.01 L929.16,272.08 L929.65,272.76 L931.07,271.83 L931.97,273.59 L930.38,274.20 L930.64,274.99 L932.28,274.55 L932.59,276.49 L930.89,276.58 L930.89,277.42 Z M919.30,277.00 a3.80,3.80 0 1,0 7.60,0 a3.80,3.80 0 1,0 -7.60,0 Z" fill="#D95319" fill-rule="evenodd"/>
<path d="M102,352 h6 v2 h2 v6 h-2 v2 h-6 v-2 h-2 v-6 h2 z M103.3,355.3 h3.4 v3.4 h-3.4 z M117,352 h6 v2 h2 v6 h-2 v2 h-6 v-2 h-2 v-6 h2 z M118.3,355.3 h3.4 v3.4 h-3.4 z M132,352 h6 v2 h2 v6 h-2 v2 h-6 v-2 h-2 v-6 h2 z M133.3,355.3 h3.4 v3.4 h-3.4 z M147,351 h6 v2 h2 v6 h-2 v2 h-6 v-2 h-2 v-6 h2 z M148.3,354.3 h3.4 v3.4 h-3.4 z M162,350 h6 v2 h2 v6 h-2 v2 h-6 v-2 h-2 v-6 h2 z M163.3,353.3 h3.4 v3.4 h-3.4 z M177,350 h6 v2 h2 v6 h-2 v2 h-6 v-2 h-2 v-6 h2 z M178.3,353.3 h3.4 v3.4 h-3.4 z M192,350 h6 v2 h2 v6 h-2 v2 h-6 v-2 h-2 v-6 h2 z M193.3,353.3 h3.4 v3.4 h-3.4 z M207,349 h6 v2 h2 v6 h-2 v2 h-6 v-2 h-2 v-6 h2 z M208.3,352.3 h3.4 v3.4 h-3.4 z M222,349 h6 v2 h2 v6 h-2 v2 h-6 v-2 h-2 v-6 h2 z M223.3,352.3 h3.4 v3.4 h-3.4 z M237,349 h6 v2 h2 v6 h-2 v2 h-6 v-2 h-2 v-6 h2 z M238.3,352.3 h3.4 v3.4 h-3.4 z M252,348 h6 v2 h2 v6 h-2 v2 h-6 v-2 h-2 v-6 h2 z M253.3,351.3 h3.4 v3.4 h-3.4 z M266,348 h6 v2 h2 v6 h-2 v2 h-6 v-2 h-2 v-6 h2 z M267.3,351.3 h3.4 v3.4 h-3.4 z M281,348 h6 v2 h2 v6 h-2 v2 h-6 v-2 h-2 v-6 h2 z M282.3,351.3 h3.4 v3.4 h-3.4 z M296,348 h6 v2 h2 v6 h-2 v2 h-6 v-2 h-2 v-6 h2 z M297.3,351.3 h3.4 v3.4 h-3.4 z M311,347 h6 v2 h2 v6 h-2 v2 h-6 v-2 h-2 v-6 h2 z M312.3,350.3 h3.4 v3.4 h-3.4 z M326,347 h6 v2 h2 v6 h-2 v2 h-6 v-2 h-2 v-6 h2 z M327.3,350.3 h3.4 v3.4 h-3.4 z M341,347 h6 v2 h2 v6 h-2 v2 h-6 v-2 h-2 v-6 h2 z M342.3,350.3 h3.4 v3.4 h-3.4 z M356,347 h6 v2 h2 v6 h-2 v2 h-6 v-2 h-2 v-6 h2 z M357.3,350.3 h3.4 v3.4 h-3.4 z M371,346 h6 v2 h2 v6 h-2 v2 h-6 v-2 h-2 v-6 h2 z M372.3,349.3 h3.4 v3.4 h-3.4 z M386,346 h6 v2 h2 v6 h-2 v2 h-6 v-2 h-2 v-6 h2 z M387.3,349.3 h3.4 v3.4 h-3.4 z M401,346 h6 v2 h2 v6 h-2 v2 h-6 v-2 h-2 v-6 h2 z M402.3,349.3 h3.4 v3.4 h-3.4 z M416,345 h6 v2 h2 v6 h-2 v2 h-6 v-2 h-2 v-6 h2 z M417.3,348.3 h3.4 v3.4 h-3.4 z M431,345 h6 v2 h2 v6 h-2 v2 h-6 v-2 h-2 v-6 h2 z M432.3,348.3 h3.4 v3.4 h-3.4 z M446,345 h6 v2 h2 v6 h-2 v2 h-6 v-2 h-2 v-6 h2 z M447.3,348.3 h3.4 v3.4 h-3.4 z M461,345 h6 v2 h2 v6 h-2 v2 h-6 v-2 h-2 v-6 h2 z M462.3,348.3 h3.4 v3.4 h-3.4 z M476,345 h6 v2 h2 v6 h-2 v2 h-6 v-2 h-2 v-6 h2 z M477.3,348.3 h3.4 v3.4 h-3.4 z M491,344 h6 v2 h2 v6 h-2 v2 h-6 v-2 h-2 v-6 h2 z M492.3,347.3 h3.4 v3.4 h-3.4 z M506,344 h6 v2 h2 v6 h-2 v2 h-6 v-2 h-2 v-6 h2 z M507.3,347.3 h3.4 v3.4 h-3.4 z M521,344 h6 v2 h2 v6 h-2 v2 h-6 v-2 h-2 v-6 h2 z M522.3,347.3 h3.4 v3.4 h-3.4 z M536,344 h6 v2 h2 v6 h-2 v2 h-6 v-2 h-2 v-6 h2 z M537.3,347.3 h3.4 v3.4 h-3.4 z M550,343 h6 v2 h2 v6 h-2 v2 h-6 v-2 h-2 v-6 h2 z M551.3,346.3 h3.4 v3.4 h-3.4 z M565,343 h6 v2 h2 v6 h-2 v2 h-6 v-2 h-2 v-6 h2 z M566.3,346.3 h3.4 v3.4 h-3.4 z M580,343 h6 v2 h2 v6 h-2 v2 h-6 v-2 h-2 v-6 h2 z M581.3,346.3 h3.4 v3.4 h-3.4 z M595,343 h6 v2 h2 v6 h-2 v2 h-6 v-2 h-2 v-6 h2 z M596.3,346.3 h3.4 v3.4 h-3.4 z M610,342 h6 v2 h2 v6 h-2 v2 h-6 v-2 h-2 v-6 h2 z M611.3,345.3 h3.4 v3.4 h-3.4 z M625,341 h6 v2 h2 v6 h-2 v2 h-6 v-2 h-2 v-6 h2 z M626.3,344.3 h3.4 v3.4 h-3.4 z M640,342 h6 v2 h2 v6 h-2 v2 h-6 v-2 h-2 v-6 h2 z M641.3,345.3 h3.4 v3.4 h-3.4 z M655,342 h6 v2 h2 v6 h-2 v2 h-6 v-2 h-2 v-6 h2 z M656.3,345.3 h3.4 v3.4 h-3.4 z M670,342 h6 v2 h2 v6 h-2 v2 h-6 v-2 h-2 v-6 h2 z M671.3,345.3 h3.4 v3.4 h-3.4 z M685,342 h6 v2 h2 v6 h-2 v2 h-6 v-2 h-2 v-6 h2 z M686.3,345.3 h3.4 v3.4 h-3.4 z M700,341 h6 v2 h2 v6 h-2 v2 h-6 v-2 h-2 v-6 h2 z M701.3,344.3 h3.4 v3.4 h-3.4 z M715,341 h6 v2 h2 v6 h-2 v2 h-6 v-2 h-2 v-6 h2 z M716.3,344.3 h3.4 v3.4 h-3.4 z M730,340 h6 v2 h2 v6 h-2 v2 h-6 v-2 h-2 v-6 h2 z M731.3,343.3 h3.4 v3.4 h-3.4 z M745,340 h6 v2 h2 v6 h-2 v2 h-6 v-2 h-2 v-6 h2 z M746.3,343.3 h3.4 v3.4 h-3.4 z M760,339 h6 v2 h2 v6 h-2 v2 h-6 v-2 h-2 v-6 h2 z M761.3,342.3 h3.4 v3.4 h-3.4 z M775,339 h6 v2 h2 v6 h-2 v2 h-6 v-2 h-2 v-6 h2 z M776.3,342.3 h3.4 v3.4 h-3.4 z M790,339 h6 v2 h2 v6 h-2 v2 h-6 v-2 h-2 v-6 h2 z M791.3,342.3 h3.4 v3.4 h-3.4 z M805,339 h6 v2 h2 v6 h-2 v2 h-6 v-2 h-2 v-6 h2 z M806.3,342.3 h3.4 v3.4 h-3.4 z M820,339 h6 v2 h2 v6 h-2 v2 h-6 v-2 h-2 v-6 h2 z M821.3,342.3 h3.4 v3.4 h-3.4 z M835,338 h6 v2 h2 v6 h-2 v2 h-6 v-2 h-2 v-6 h2 z M836.3,341.3 h3.4 v3.4 h-3.4 z M850,338 h6 v2 h2 v6 h-2 v2 h-6 v-2 h-2 v-6 h2 z M851.3,341.3 h3.4 v3.4 h-3.4 z M864,337 h6 v2 h2 v6 h-2 v2 h-6 v-2 h-2 v-6 h2 z M865.3,340.3 h3.4 v3.4 h-3.4 z M879,337 h6 v2 h2 v6 h-2 v2 h-6 v-2 h-2 v-6 h2 z M880.3,340.3 h3.4 v3.4 h-3.4 z M894,337 h6 v2 h2 v6 h-2 v2 h-6 v-2 h-2 v-6 h2 z M895.3,340.3 h3.4 v3.4 h-3.4 z M909,337 h6 v2 h2 v6 h-2 v2 h-6 v-2 h-2 v-6 h2 z M910.3,340.3 h3.4 v3.4 h-3.4 z M924,337 h6 v2 h2 v6 h-2 v2 h-6 v-2 h-2 v-6 h2 z M925.3,340.3 h3.4 v3.4 h-3.4 z M939,336 h6 v2 h2 v6 h-2 v2 h-6 v-2 h-2 v-6 h2 z M940.3,339.3 h3.4 v3.4 h-3.4 z " fill="#808080" fill-rule="evenodd"/>
<g font-family="'Liberation Sans', sans-serif" font-size="29.5" fill="#000">
<text x="108.25" y="432.5" text-anchor="middle">0.5</text>
<text x="224.15" y="432.5" text-anchor="middle">0.52</text>
<text x="345.4" y="432.5" text-anchor="middle">0.54</text>
<text x="463.4" y="432.5" text-anchor="middle">0.56</text>
<text x="579.6" y="432.5" text-anchor="middle">0.58</text>
<text x="703.1" y="432.5" text-anchor="middle">0.6</text>
<text x="825.9" y="432.5" text-anchor="middle">0.62</text>
<text x="944.6" y="432.5" text-anchor="middle">0.64</text>
<text x="93.6" y="406.8" text-anchor="end">0</text>
<text x="93.6" y="282.3" text-anchor="end">0.5</text>
<path transform="translate(77.2,157.8) scale(29.5,-29.5)" d="M0.262,0 L0.355,0 L0.355,0.703 L0.283,0.703 C0.272,0.630 0.228,0.552 0.100,0.540 L0.100,0.478 L0.262,0.478 Z"/>
<path transform="translate(52.59,33.3) scale(29.5,-29.5)" d="M0.262,0 L0.355,0 L0.355,0.703 L0.283,0.703 C0.272,0.630 0.228,0.552 0.100,0.540 L0.100,0.478 L0.262,0.478 Z"/><text x="69" y="33.3">.5</text>
</g>
<text x="523.8" y="478.7" text-anchor="middle" font-family="'Liberation Sans', sans-serif" font-size="29.5"><tspan font-style="italic">p</tspan> [a.u.]</text>
<text transform="translate(24.5,212.5) rotate(-90)" text-anchor="middle" font-family="'Liberation Sans', sans-serif" font-size="30.3"><tspan font-family="'Liberation Serif', serif" font-style="italic">δ<tspan dx="2.5">ϕ</tspan></tspan> [rad]</text>
<text transform="translate(-0.6,22.8) scale(0.9,1)" font-family="'Liberation Sans', sans-serif" font-size="43" font-weight="bold">a</text>
<rect x="179.4" y="53.2" width="307" height="134.4" fill="#fff"/>
<rect x="261.27" y="53.2" width="148.38" height="134.4" fill="#d9d9d9" stroke="#666" stroke-width="1.2"/>
<line x1="337.3" y1="171" x2="360.6" y2="66.2" stroke="#808080" stroke-width="5.8"/>
<g fill="none" stroke="#1a1a1a" stroke-width="2.2">
<rect x="179.4" y="53.2" width="307" height="134.4"/>
<path d="M230.57,187.6v-3.1 M230.57,53.2v3.1 M332.9,187.6v-3.1 M332.9,53.2v3.1 M435.23,187.6v-3.1 M435.23,53.2v3.1 M179.4,187.6h3.1 M486.4,187.6h-3.1 M179.4,142.8h3.1 M486.4,142.8h-3.1 M179.4,98h3.1 M486.4,98h-3.1 M179.4,53.2h3.1 M486.4,53.2h-3.1 "/>
</g>
<rect x="176.1" y="160.3" width="2.2" height="5" fill="#808080"/>
<circle cx="183" cy="163.2" r="3.4" fill="#fff" stroke="#D95319" stroke-width="2.2"/>
<circle cx="188.52" cy="163.44" r="3.4" fill="#fff" stroke="#D95319" stroke-width="2.2"/>
<circle cx="194.46" cy="163.64" r="3.4" fill="#fff" stroke="#D95319" stroke-width="2.2"/>
<circle cx="200.39" cy="164.05" r="3.4" fill="#fff" stroke="#D95319" stroke-width="2.2"/>
<circle cx="206.54" cy="164.46" r="3.4" fill="#fff" stroke="#D95319" stroke-width="2.2"/>
<circle cx="212.68" cy="165.28" r="3.4" fill="#fff" stroke="#D95319" stroke-width="2.2"/>
<circle cx="218.82" cy="165.9" r="3.4" fill="#fff" stroke="#D95319" stroke-width="2.2"/>
<circle cx="224.55" cy="166.51" r="3.4" fill="#fff" stroke="#D95319" stroke-width="2.2"/>
<circle cx="230.49" cy="167.12" r="3.4" fill="#fff" stroke="#D95319" stroke-width="2.2"/>
<circle cx="236.22" cy="167.74" r="3.4" fill="#fff" stroke="#D95319" stroke-width="2.2"/>
<circle cx="242.15" cy="168.56" r="3.4" fill="#fff" stroke="#D95319" stroke-width="2.2"/>
<circle cx="248.3" cy="169.38" r="3.4" fill="#fff" stroke="#D95319" stroke-width="2.2"/>
<circle cx="254.03" cy="170.19" r="3.4" fill="#fff" stroke="#D95319" stroke-width="2.2"/>
<circle cx="259.96" cy="171.01" r="3.4" fill="#fff" stroke="#D95319" stroke-width="2.2"/>
<circle cx="266.11" cy="172.04" r="3.4" fill="#fff" stroke="#D95319" stroke-width="2.2"/>
<circle cx="271.84" cy="173.47" r="3.4" fill="#fff" stroke="#D95319" stroke-width="2.2"/>
<circle cx="277.98" cy="174.9" r="3.4" fill="#fff" stroke="#D95319" stroke-width="2.2"/>
<circle cx="283.71" cy="176.34" r="3.4" fill="#fff" stroke="#D95319" stroke-width="2.2"/>
<circle cx="289.85" cy="177.56" r="3.4" fill="#fff" stroke="#D95319" stroke-width="2.2"/>
<circle cx="295.38" cy="178.79" r="3.4" fill="#fff" stroke="#D95319" stroke-width="2.2"/>
<circle cx="301.52" cy="179.61" r="3.4" fill="#fff" stroke="#D95319" stroke-width="2.2"/>
<circle cx="295.73" cy="179.2" r="3.4" fill="#fff" stroke="#D95319" stroke-width="2.2"/>
<circle cx="301.67" cy="179.82" r="3.4" fill="#fff" stroke="#D95319" stroke-width="2.2"/>
<circle cx="307.6" cy="180.43" r="3.4" fill="#fff" stroke="#D95319" stroke-width="2.2"/>
<circle cx="313.75" cy="182.07" r="3.4" fill="#fff" stroke="#D95319" stroke-width="2.2"/>
<circle cx="319.68" cy="183.3" r="3.4" fill="#fff" stroke="#D95319" stroke-width="2.2"/>
<circle cx="325.62" cy="182.68" r="3.4" fill="#fff" stroke="#D95319" stroke-width="2.2"/>
<circle cx="331.76" cy="178.38" r="3.4" fill="#fff" stroke="#D95319" stroke-width="2.2"/>
<circle cx="337.29" cy="171.01" r="3.4" fill="#fff" stroke="#D95319" stroke-width="2.2"/>
<circle cx="343.43" cy="143.38" r="3.4" fill="#fff" stroke="#D95319" stroke-width="2.2"/>
<circle cx="349.16" cy="117.38" r="3.4" fill="#fff" stroke="#D95319" stroke-width="2.2"/>
<circle cx="355.1" cy="88.52" r="3.4" fill="#fff" stroke="#D95319" stroke-width="2.2"/>
<circle cx="360.62" cy="66.2" r="3.4" fill="#fff" stroke="#D95319" stroke-width="2.2"/>
<circle cx="366.97" cy="60.27" r="3.4" fill="#fff" stroke="#D95319" stroke-width="2.2"/>
<circle cx="372.7" cy="63.34" r="3.4" fill="#fff" stroke="#D95319" stroke-width="2.2"/>
<circle cx="378.84" cy="67.23" r="3.4" fill="#fff" stroke="#D95319" stroke-width="2.2"/>
<circle cx="384.78" cy="73.16" r="3.4" fill="#fff" stroke="#D95319" stroke-width="2.2"/>
<circle cx="390.72" cy="79.92" r="3.4" fill="#fff" stroke="#D95319" stroke-width="2.2"/>
<circle cx="396.65" cy="85.45" r="3.4" fill="#fff" stroke="#D95319" stroke-width="2.2"/>
<circle cx="402.59" cy="90.15" r="3.4" fill="#fff" stroke="#D95319" stroke-width="2.2"/>
<circle cx="408.32" cy="95.68" r="3.4" fill="#fff" stroke="#D95319" stroke-width="2.2"/>
<circle cx="414.05" cy="100.59" r="3.4" fill="#fff" stroke="#D95319" stroke-width="2.2"/>
<circle cx="420.19" cy="104.07" r="3.4" fill="#fff" stroke="#D95319" stroke-width="2.2"/>
<circle cx="426.34" cy="107.76" r="3.4" fill="#fff" stroke="#D95319" stroke-width="2.2"/>
<circle cx="432.07" cy="111.65" r="3.4" fill="#fff" stroke="#D95319" stroke-width="2.2"/>
<circle cx="438.21" cy="114.92" r="3.4" fill="#fff" stroke="#D95319" stroke-width="2.2"/>
<circle cx="443.94" cy="117.79" r="3.4" fill="#fff" stroke="#D95319" stroke-width="2.2"/>
<circle cx="450.08" cy="120.25" r="3.4" fill="#fff" stroke="#D95319" stroke-width="2.2"/>
<circle cx="456.02" cy="122.91" r="3.4" fill="#fff" stroke="#D95319" stroke-width="2.2"/>
<circle cx="461.95" cy="125.16" r="3.4" fill="#fff" stroke="#D95319" stroke-width="2.2"/>
<circle cx="467.69" cy="127.41" r="3.4" fill="#fff" stroke="#D95319" stroke-width="2.2"/>
<circle cx="473.83" cy="129.46" r="3.4" fill="#fff" stroke="#D95319" stroke-width="2.2"/>
<circle cx="479.97" cy="131.5" r="3.4" fill="#fff" stroke="#D95319" stroke-width="2.2"/>
<circle cx="486.11" cy="133.14" r="3.4" fill="#fff" stroke="#D95319" stroke-width="2.2"/>
<g font-family="'Liberation Sans', sans-serif" font-size="20.7" fill="#000">
<text x="229.37" y="211.5" text-anchor="middle">2</text>
<text x="331.7" y="211.5" text-anchor="middle">3</text>
<text x="434.03" y="211.5" text-anchor="middle">4</text>
<text x="170.3" y="196.6" text-anchor="end">0</text>
<text x="170.3" y="151.8" text-anchor="end">0.5</text>
<path transform="translate(162.09,107.5) scale(20.7,-20.7)" d="M0.262,0 L0.355,0 L0.355,0.703 L0.283,0.703 C0.272,0.630 0.228,0.552 0.100,0.540 L0.100,0.478 L0.262,0.478 Z"/>
<path transform="translate(141.53,62.2) scale(20.7,-20.7)" d="M0.262,0 L0.355,0 L0.355,0.703 L0.283,0.703 C0.272,0.630 0.228,0.552 0.100,0.540 L0.100,0.478 L0.262,0.478 Z"/><text x="153.04" y="62.2">.5</text>
</g>
<text x="188" y="239.1" font-family="'Liberation Sans', sans-serif" font-size="20.7"><tspan font-family="'Liberation Serif', serif" font-style="italic">θ</tspan> (interference angle) [rad]</text>
<text transform="translate(130.2,134) rotate(-90)" text-anchor="middle" font-family="'Liberation Sans', sans-serif" font-size="20.7">Oscillation phase [rad]</text>
<path d="M219.9,921.6V549 M340.9,921.6V549 M462.5,921.6V549 M584.6,921.6V549 M707.1,921.6V549 M828.6,921.6V549 " stroke="#262626" stroke-opacity="0.16" stroke-width="1.8" fill="none"/>
<path d="M98.3,797.7H950.6 M98.3,673.5H950.6 " stroke="#262626" stroke-opacity="0.16" stroke-width="1.8" fill="none"/>
<g fill="none" stroke="#1c1c1c" stroke-width="2.05">
<rect x="98.3" y="549" width="852.3" height="372.6"/>
<path d="M98.3,921.6v-8.8 M98.3,549v8.8 M219.9,921.6v-8.8 M219.9,549v8.8 M340.9,921.6v-8.8 M340.9,549v8.8 M462.5,921.6v-8.8 M462.5,549v8.8 M584.6,921.6v-8.8 M584.6,549v8.8 M707.1,921.6v-8.8 M707.1,549v8.8 M828.6,921.6v-8.8 M828.6,549v8.8 M950.6,921.6v-8.8 M950.6,549v8.8 M98.3,921.6h8.8 M950.6,921.6h-8.8 M98.3,797.4h8.8 M950.6,797.4h-8.8 M98.3,673.2h8.8 M950.6,673.2h-8.8 M98.3,549h8.8 M950.6,549h-8.8 "/>
</g>
<path d="M127.4,700.1V837.1 M117.9,700.1h19 M117.9,837.1h19 M182.8,713.9V921.5 M173.3,713.9h19 M173.3,921.5h19 M210.4,754.6V921.5 M200.9,754.6h19 M200.9,921.5h19 M238.1,765.8V921.5 M228.6,765.8h19 M228.6,921.5h19 M265.5,735.2V921.5 M256,735.2h19 M256,921.5h19 M293.2,719.2V921.5 M283.7,719.2h19 M283.7,921.5h19 M321.1,690.8V890.3 M311.6,690.8h19 M311.6,890.3h19 M349,694.5V871.1 M339.5,694.5h19 M339.5,871.1h19 M404.1,766.3V921.5 M394.6,766.3h19 M394.6,921.5h19 M432.6,692.6V921.5 M423.1,692.6h19 M423.1,921.5h19 M542.8,696.1V919.6 M533.3,696.1h19 M533.3,919.6h19 M736.2,766.3V921.5 M726.7,766.3h19 M726.7,921.5h19 M764.1,766.3V921.5 M754.6,766.3h19 M754.6,921.5h19 M791.8,773.2V921.5 M782.3,773.2h19 M782.3,921.5h19 M847.2,786.3V921.5 M837.7,786.3h19 M837.7,921.5h19 M875.2,714.2V921.5 M865.7,714.2h19 M865.7,921.5h19 M902.8,773.7V921.5 M893.3,773.7h19 M893.3,921.5h19 " stroke="#0072BD" stroke-width="5.8" fill="none"/>
<path d="M135.88,768.81 L135.63,770.44 L133.50,769.89 L133.26,770.60 L135.31,771.40 L134.56,772.88 L132.71,771.69 L132.27,772.30 L133.97,773.70 L132.80,774.87 L131.40,773.17 L130.79,773.61 L131.98,775.46 L130.50,776.21 L129.70,774.16 L128.99,774.40 L129.54,776.53 L127.91,776.78 L127.78,774.59 L127.02,774.59 L126.89,776.78 L125.26,776.53 L125.81,774.40 L125.10,774.16 L124.30,776.21 L122.82,775.46 L124.01,773.61 L123.40,773.17 L122.00,774.87 L120.83,773.70 L122.53,772.30 L122.09,771.69 L120.24,772.88 L119.49,771.40 L121.54,770.60 L121.30,769.89 L119.17,770.44 L118.92,768.81 L121.11,768.68 L121.11,767.92 L118.92,767.79 L119.17,766.16 L121.30,766.71 L121.54,766.00 L119.49,765.20 L120.24,763.72 L122.09,764.91 L122.53,764.30 L120.83,762.90 L122.00,761.73 L123.40,763.43 L124.01,762.99 L122.82,761.14 L124.30,760.39 L125.10,762.44 L125.81,762.20 L125.26,760.07 L126.89,759.82 L127.02,762.01 L127.78,762.01 L127.91,759.82 L129.54,760.07 L128.99,762.20 L129.70,762.44 L130.50,760.39 L131.98,761.14 L130.79,762.99 L131.40,763.43 L132.80,761.73 L133.97,762.90 L132.27,764.30 L132.71,764.91 L134.56,763.72 L135.31,765.20 L133.26,766.00 L133.50,766.71 L135.63,766.16 L135.88,767.79 L133.69,767.92 L133.69,768.68 Z" fill="#0072BD" fill-rule="evenodd"/>
<path d="M191.28,826.81 L191.03,828.44 L188.90,827.89 L188.66,828.60 L190.71,829.40 L189.96,830.88 L188.11,829.69 L187.67,830.30 L189.37,831.70 L188.20,832.87 L186.80,831.17 L186.19,831.61 L187.38,833.46 L185.90,834.21 L185.10,832.16 L184.39,832.40 L184.94,834.53 L183.31,834.78 L183.18,832.59 L182.42,832.59 L182.29,834.78 L180.66,834.53 L181.21,832.40 L180.50,832.16 L179.70,834.21 L178.22,833.46 L179.41,831.61 L178.80,831.17 L177.40,832.87 L176.23,831.70 L177.93,830.30 L177.49,829.69 L175.64,830.88 L174.89,829.40 L176.94,828.60 L176.70,827.89 L174.57,828.44 L174.32,826.81 L176.51,826.68 L176.51,825.92 L174.32,825.79 L174.57,824.16 L176.70,824.71 L176.94,824.00 L174.89,823.20 L175.64,821.72 L177.49,822.91 L177.93,822.30 L176.23,820.90 L177.40,819.73 L178.80,821.43 L179.41,820.99 L178.22,819.14 L179.70,818.39 L180.50,820.44 L181.21,820.20 L180.66,818.07 L182.29,817.82 L182.42,820.01 L183.18,820.01 L183.31,817.82 L184.94,818.07 L184.39,820.20 L185.10,820.44 L185.90,818.39 L187.38,819.14 L186.19,820.99 L186.80,821.43 L188.20,819.73 L189.37,820.90 L187.67,822.30 L188.11,822.91 L189.96,821.72 L190.71,823.20 L188.66,824.00 L188.90,824.71 L191.03,824.16 L191.28,825.79 L189.09,825.92 L189.09,826.68 Z" fill="#0072BD" fill-rule="evenodd"/>
<path d="M218.88,876.71 L218.63,878.34 L216.50,877.79 L216.26,878.50 L218.31,879.30 L217.56,880.78 L215.71,879.59 L215.27,880.20 L216.97,881.60 L215.80,882.77 L214.40,881.07 L213.79,881.51 L214.98,883.36 L213.50,884.11 L212.70,882.06 L211.99,882.30 L212.54,884.43 L210.91,884.68 L210.78,882.49 L210.02,882.49 L209.89,884.68 L208.26,884.43 L208.81,882.30 L208.10,882.06 L207.30,884.11 L205.82,883.36 L207.01,881.51 L206.40,881.07 L205.00,882.77 L203.83,881.60 L205.53,880.20 L205.09,879.59 L203.24,880.78 L202.49,879.30 L204.54,878.50 L204.30,877.79 L202.17,878.34 L201.92,876.71 L204.11,876.58 L204.11,875.82 L201.92,875.69 L202.17,874.06 L204.30,874.61 L204.54,873.90 L202.49,873.10 L203.24,871.62 L205.09,872.81 L205.53,872.20 L203.83,870.80 L205.00,869.63 L206.40,871.33 L207.01,870.89 L205.82,869.04 L207.30,868.29 L208.10,870.34 L208.81,870.10 L208.26,867.97 L209.89,867.72 L210.02,869.91 L210.78,869.91 L210.91,867.72 L212.54,867.97 L211.99,870.10 L212.70,870.34 L213.50,868.29 L214.98,869.04 L213.79,870.89 L214.40,871.33 L215.80,869.63 L216.97,870.80 L215.27,872.20 L215.71,872.81 L217.56,871.62 L218.31,873.10 L216.26,873.90 L216.50,874.61 L218.63,874.06 L218.88,875.69 L216.69,875.82 L216.69,876.58 Z" fill="#0072BD" fill-rule="evenodd"/>
<path d="M246.58,876.71 L246.33,878.34 L244.20,877.79 L243.96,878.50 L246.01,879.30 L245.26,880.78 L243.41,879.59 L242.97,880.20 L244.67,881.60 L243.50,882.77 L242.10,881.07 L241.49,881.51 L242.68,883.36 L241.20,884.11 L240.40,882.06 L239.69,882.30 L240.24,884.43 L238.61,884.68 L238.48,882.49 L237.72,882.49 L237.59,884.68 L235.96,884.43 L236.51,882.30 L235.80,882.06 L235.00,884.11 L233.52,883.36 L234.71,881.51 L234.10,881.07 L232.70,882.77 L231.53,881.60 L233.23,880.20 L232.79,879.59 L230.94,880.78 L230.19,879.30 L232.24,878.50 L232.00,877.79 L229.87,878.34 L229.62,876.71 L231.81,876.58 L231.81,875.82 L229.62,875.69 L229.87,874.06 L232.00,874.61 L232.24,873.90 L230.19,873.10 L230.94,871.62 L232.79,872.81 L233.23,872.20 L231.53,870.80 L232.70,869.63 L234.10,871.33 L234.71,870.89 L233.52,869.04 L235.00,868.29 L235.80,870.34 L236.51,870.10 L235.96,867.97 L237.59,867.72 L237.72,869.91 L238.48,869.91 L238.61,867.72 L240.24,867.97 L239.69,870.10 L240.40,870.34 L241.20,868.29 L242.68,869.04 L241.49,870.89 L242.10,871.33 L243.50,869.63 L244.67,870.80 L242.97,872.20 L243.41,872.81 L245.26,871.62 L246.01,873.10 L243.96,873.90 L244.20,874.61 L246.33,874.06 L246.58,875.69 L244.39,875.82 L244.39,876.58 Z" fill="#0072BD" fill-rule="evenodd"/>
<path d="M273.98,850.11 L273.73,851.74 L271.60,851.19 L271.36,851.90 L273.41,852.70 L272.66,854.18 L270.81,852.99 L270.37,853.60 L272.07,855.00 L270.90,856.17 L269.50,854.47 L268.89,854.91 L270.08,856.76 L268.60,857.51 L267.80,855.46 L267.09,855.70 L267.64,857.83 L266.01,858.08 L265.88,855.89 L265.12,855.89 L264.99,858.08 L263.36,857.83 L263.91,855.70 L263.20,855.46 L262.40,857.51 L260.92,856.76 L262.11,854.91 L261.50,854.47 L260.10,856.17 L258.93,855.00 L260.63,853.60 L260.19,852.99 L258.34,854.18 L257.59,852.70 L259.64,851.90 L259.40,851.19 L257.27,851.74 L257.02,850.11 L259.21,849.98 L259.21,849.22 L257.02,849.09 L257.27,847.46 L259.40,848.01 L259.64,847.30 L257.59,846.50 L258.34,845.02 L260.19,846.21 L260.63,845.60 L258.93,844.20 L260.10,843.03 L261.50,844.73 L262.11,844.29 L260.92,842.44 L262.40,841.69 L263.20,843.74 L263.91,843.50 L263.36,841.37 L264.99,841.12 L265.12,843.31 L265.88,843.31 L266.01,841.12 L267.64,841.37 L267.09,843.50 L267.80,843.74 L268.60,841.69 L270.08,842.44 L268.89,844.29 L269.50,844.73 L270.90,843.03 L272.07,844.20 L270.37,845.60 L270.81,846.21 L272.66,845.02 L273.41,846.50 L271.36,847.30 L271.60,848.01 L273.73,847.46 L273.98,849.09 L271.79,849.22 L271.79,849.98 Z" fill="#0072BD" fill-rule="evenodd"/>
<path d="M301.68,837.61 L301.43,839.24 L299.30,838.69 L299.06,839.40 L301.11,840.20 L300.36,841.68 L298.51,840.49 L298.07,841.10 L299.77,842.50 L298.60,843.67 L297.20,841.97 L296.59,842.41 L297.78,844.26 L296.30,845.01 L295.50,842.96 L294.79,843.20 L295.34,845.33 L293.71,845.58 L293.58,843.39 L292.82,843.39 L292.69,845.58 L291.06,845.33 L291.61,843.20 L290.90,842.96 L290.10,845.01 L288.62,844.26 L289.81,842.41 L289.20,841.97 L287.80,843.67 L286.63,842.50 L288.33,841.10 L287.89,840.49 L286.04,841.68 L285.29,840.20 L287.34,839.40 L287.10,838.69 L284.97,839.24 L284.72,837.61 L286.91,837.48 L286.91,836.72 L284.72,836.59 L284.97,834.96 L287.10,835.51 L287.34,834.80 L285.29,834.00 L286.04,832.52 L287.89,833.71 L288.33,833.10 L286.63,831.70 L287.80,830.53 L289.20,832.23 L289.81,831.79 L288.62,829.94 L290.10,829.19 L290.90,831.24 L291.61,831.00 L291.06,828.87 L292.69,828.62 L292.82,830.81 L293.58,830.81 L293.71,828.62 L295.34,828.87 L294.79,831.00 L295.50,831.24 L296.30,829.19 L297.78,829.94 L296.59,831.79 L297.20,832.23 L298.60,830.53 L299.77,831.70 L298.07,833.10 L298.51,833.71 L300.36,832.52 L301.11,834.00 L299.06,834.80 L299.30,835.51 L301.43,834.96 L301.68,836.59 L299.49,836.72 L299.49,837.48 Z" fill="#0072BD" fill-rule="evenodd"/>
<path d="M329.58,791.01 L329.33,792.64 L327.20,792.09 L326.96,792.80 L329.01,793.60 L328.26,795.08 L326.41,793.89 L325.97,794.50 L327.67,795.90 L326.50,797.07 L325.10,795.37 L324.49,795.81 L325.68,797.66 L324.20,798.41 L323.40,796.36 L322.69,796.60 L323.24,798.73 L321.61,798.98 L321.48,796.79 L320.72,796.79 L320.59,798.98 L318.96,798.73 L319.51,796.60 L318.80,796.36 L318.00,798.41 L316.52,797.66 L317.71,795.81 L317.10,795.37 L315.70,797.07 L314.53,795.90 L316.23,794.50 L315.79,793.89 L313.94,795.08 L313.19,793.60 L315.24,792.80 L315.00,792.09 L312.87,792.64 L312.62,791.01 L314.81,790.88 L314.81,790.12 L312.62,789.99 L312.87,788.36 L315.00,788.91 L315.24,788.20 L313.19,787.40 L313.94,785.92 L315.79,787.11 L316.23,786.50 L314.53,785.10 L315.70,783.93 L317.10,785.63 L317.71,785.19 L316.52,783.34 L318.00,782.59 L318.80,784.64 L319.51,784.40 L318.96,782.27 L320.59,782.02 L320.72,784.21 L321.48,784.21 L321.61,782.02 L323.24,782.27 L322.69,784.40 L323.40,784.64 L324.20,782.59 L325.68,783.34 L324.49,785.19 L325.10,785.63 L326.50,783.93 L327.67,785.10 L325.97,786.50 L326.41,787.11 L328.26,785.92 L329.01,787.40 L326.96,788.20 L327.20,788.91 L329.33,788.36 L329.58,789.99 L327.39,790.12 L327.39,790.88 Z" fill="#0072BD" fill-rule="evenodd"/>
<path d="M357.48,783.01 L357.23,784.64 L355.10,784.09 L354.86,784.80 L356.91,785.60 L356.16,787.08 L354.31,785.89 L353.87,786.50 L355.57,787.90 L354.40,789.07 L353.00,787.37 L352.39,787.81 L353.58,789.66 L352.10,790.41 L351.30,788.36 L350.59,788.60 L351.14,790.73 L349.51,790.98 L349.38,788.79 L348.62,788.79 L348.49,790.98 L346.86,790.73 L347.41,788.60 L346.70,788.36 L345.90,790.41 L344.42,789.66 L345.61,787.81 L345.00,787.37 L343.60,789.07 L342.43,787.90 L344.13,786.50 L343.69,785.89 L341.84,787.08 L341.09,785.60 L343.14,784.80 L342.90,784.09 L340.77,784.64 L340.52,783.01 L342.71,782.88 L342.71,782.12 L340.52,781.99 L340.77,780.36 L342.90,780.91 L343.14,780.20 L341.09,779.40 L341.84,777.92 L343.69,779.11 L344.13,778.50 L342.43,777.10 L343.60,775.93 L345.00,777.63 L345.61,777.19 L344.42,775.34 L345.90,774.59 L346.70,776.64 L347.41,776.40 L346.86,774.27 L348.49,774.02 L348.62,776.21 L349.38,776.21 L349.51,774.02 L351.14,774.27 L350.59,776.40 L351.30,776.64 L352.10,774.59 L353.58,775.34 L352.39,777.19 L353.00,777.63 L354.40,775.93 L355.57,777.10 L353.87,778.50 L354.31,779.11 L356.16,777.92 L356.91,779.40 L354.86,780.20 L355.10,780.91 L357.23,780.36 L357.48,781.99 L355.29,782.12 L355.29,782.88 Z" fill="#0072BD" fill-rule="evenodd"/>
<path d="M412.58,876.71 L412.33,878.34 L410.20,877.79 L409.96,878.50 L412.01,879.30 L411.26,880.78 L409.41,879.59 L408.97,880.20 L410.67,881.60 L409.50,882.77 L408.10,881.07 L407.49,881.51 L408.68,883.36 L407.20,884.11 L406.40,882.06 L405.69,882.30 L406.24,884.43 L404.61,884.68 L404.48,882.49 L403.72,882.49 L403.59,884.68 L401.96,884.43 L402.51,882.30 L401.80,882.06 L401.00,884.11 L399.52,883.36 L400.71,881.51 L400.10,881.07 L398.70,882.77 L397.53,881.60 L399.23,880.20 L398.79,879.59 L396.94,880.78 L396.19,879.30 L398.24,878.50 L398.00,877.79 L395.87,878.34 L395.62,876.71 L397.81,876.58 L397.81,875.82 L395.62,875.69 L395.87,874.06 L398.00,874.61 L398.24,873.90 L396.19,873.10 L396.94,871.62 L398.79,872.81 L399.23,872.20 L397.53,870.80 L398.70,869.63 L400.10,871.33 L400.71,870.89 L399.52,869.04 L401.00,868.29 L401.80,870.34 L402.51,870.10 L401.96,867.97 L403.59,867.72 L403.72,869.91 L404.48,869.91 L404.61,867.72 L406.24,867.97 L405.69,870.10 L406.40,870.34 L407.20,868.29 L408.68,869.04 L407.49,870.89 L408.10,871.33 L409.50,869.63 L410.67,870.80 L408.97,872.20 L409.41,872.81 L411.26,871.62 L412.01,873.10 L409.96,873.90 L410.20,874.61 L412.33,874.06 L412.58,875.69 L410.39,875.82 L410.39,876.58 Z" fill="#0072BD" fill-rule="evenodd"/>
<path d="M441.08,816.31 L440.83,817.94 L438.70,817.39 L438.46,818.10 L440.51,818.90 L439.76,820.38 L437.91,819.19 L437.47,819.80 L439.17,821.20 L438.00,822.37 L436.60,820.67 L435.99,821.11 L437.18,822.96 L435.70,823.71 L434.90,821.66 L434.19,821.90 L434.74,824.03 L433.11,824.28 L432.98,822.09 L432.22,822.09 L432.09,824.28 L430.46,824.03 L431.01,821.90 L430.30,821.66 L429.50,823.71 L428.02,822.96 L429.21,821.11 L428.60,820.67 L427.20,822.37 L426.03,821.20 L427.73,819.80 L427.29,819.19 L425.44,820.38 L424.69,818.90 L426.74,818.10 L426.50,817.39 L424.37,817.94 L424.12,816.31 L426.31,816.18 L426.31,815.42 L424.12,815.29 L424.37,813.66 L426.50,814.21 L426.74,813.50 L424.69,812.70 L425.44,811.22 L427.29,812.41 L427.73,811.80 L426.03,810.40 L427.20,809.23 L428.60,810.93 L429.21,810.49 L428.02,808.64 L429.50,807.89 L430.30,809.94 L431.01,809.70 L430.46,807.57 L432.09,807.32 L432.22,809.51 L432.98,809.51 L433.11,807.32 L434.74,807.57 L434.19,809.70 L434.90,809.94 L435.70,807.89 L437.18,808.64 L435.99,810.49 L436.60,810.93 L438.00,809.23 L439.17,810.40 L437.47,811.80 L437.91,812.41 L439.76,811.22 L440.51,812.70 L438.46,813.50 L438.70,814.21 L440.83,813.66 L441.08,815.29 L438.89,815.42 L438.89,816.18 Z" fill="#0072BD" fill-rule="evenodd"/>
<path d="M551.28,808.91 L551.03,810.54 L548.90,809.99 L548.66,810.70 L550.71,811.50 L549.96,812.98 L548.11,811.79 L547.67,812.40 L549.37,813.80 L548.20,814.97 L546.80,813.27 L546.19,813.71 L547.38,815.56 L545.90,816.31 L545.10,814.26 L544.39,814.50 L544.94,816.63 L543.31,816.88 L543.18,814.69 L542.42,814.69 L542.29,816.88 L540.66,816.63 L541.21,814.50 L540.50,814.26 L539.70,816.31 L538.22,815.56 L539.41,813.71 L538.80,813.27 L537.40,814.97 L536.23,813.80 L537.93,812.40 L537.49,811.79 L535.64,812.98 L534.89,811.50 L536.94,810.70 L536.70,809.99 L534.57,810.54 L534.32,808.91 L536.51,808.78 L536.51,808.02 L534.32,807.89 L534.57,806.26 L536.70,806.81 L536.94,806.10 L534.89,805.30 L535.64,803.82 L537.49,805.01 L537.93,804.40 L536.23,803.00 L537.40,801.83 L538.80,803.53 L539.41,803.09 L538.22,801.24 L539.70,800.49 L540.50,802.54 L541.21,802.30 L540.66,800.17 L542.29,799.92 L542.42,802.11 L543.18,802.11 L543.31,799.92 L544.94,800.17 L544.39,802.30 L545.10,802.54 L545.90,800.49 L547.38,801.24 L546.19,803.09 L546.80,803.53 L548.20,801.83 L549.37,803.00 L547.67,804.40 L548.11,805.01 L549.96,803.82 L550.71,805.30 L548.66,806.10 L548.90,806.81 L551.03,806.26 L551.28,807.89 L549.09,808.02 L549.09,808.78 Z" fill="#0072BD" fill-rule="evenodd"/>
<path d="M744.68,876.71 L744.43,878.34 L742.30,877.79 L742.06,878.50 L744.11,879.30 L743.36,880.78 L741.51,879.59 L741.07,880.20 L742.77,881.60 L741.60,882.77 L740.20,881.07 L739.59,881.51 L740.78,883.36 L739.30,884.11 L738.50,882.06 L737.79,882.30 L738.34,884.43 L736.71,884.68 L736.58,882.49 L735.82,882.49 L735.69,884.68 L734.06,884.43 L734.61,882.30 L733.90,882.06 L733.10,884.11 L731.62,883.36 L732.81,881.51 L732.20,881.07 L730.80,882.77 L729.63,881.60 L731.33,880.20 L730.89,879.59 L729.04,880.78 L728.29,879.30 L730.34,878.50 L730.10,877.79 L727.97,878.34 L727.72,876.71 L729.91,876.58 L729.91,875.82 L727.72,875.69 L727.97,874.06 L730.10,874.61 L730.34,873.90 L728.29,873.10 L729.04,871.62 L730.89,872.81 L731.33,872.20 L729.63,870.80 L730.80,869.63 L732.20,871.33 L732.81,870.89 L731.62,869.04 L733.10,868.29 L733.90,870.34 L734.61,870.10 L734.06,867.97 L735.69,867.72 L735.82,869.91 L736.58,869.91 L736.71,867.72 L738.34,867.97 L737.79,870.10 L738.50,870.34 L739.30,868.29 L740.78,869.04 L739.59,870.89 L740.20,871.33 L741.60,869.63 L742.77,870.80 L741.07,872.20 L741.51,872.81 L743.36,871.62 L744.11,873.10 L742.06,873.90 L742.30,874.61 L744.43,874.06 L744.68,875.69 L742.49,875.82 L742.49,876.58 Z" fill="#0072BD" fill-rule="evenodd"/>
<path d="M772.58,876.71 L772.33,878.34 L770.20,877.79 L769.96,878.50 L772.01,879.30 L771.26,880.78 L769.41,879.59 L768.97,880.20 L770.67,881.60 L769.50,882.77 L768.10,881.07 L767.49,881.51 L768.68,883.36 L767.20,884.11 L766.40,882.06 L765.69,882.30 L766.24,884.43 L764.61,884.68 L764.48,882.49 L763.72,882.49 L763.59,884.68 L761.96,884.43 L762.51,882.30 L761.80,882.06 L761.00,884.11 L759.52,883.36 L760.71,881.51 L760.10,881.07 L758.70,882.77 L757.53,881.60 L759.23,880.20 L758.79,879.59 L756.94,880.78 L756.19,879.30 L758.24,878.50 L758.00,877.79 L755.87,878.34 L755.62,876.71 L757.81,876.58 L757.81,875.82 L755.62,875.69 L755.87,874.06 L758.00,874.61 L758.24,873.90 L756.19,873.10 L756.94,871.62 L758.79,872.81 L759.23,872.20 L757.53,870.80 L758.70,869.63 L760.10,871.33 L760.71,870.89 L759.52,869.04 L761.00,868.29 L761.80,870.34 L762.51,870.10 L761.96,867.97 L763.59,867.72 L763.72,869.91 L764.48,869.91 L764.61,867.72 L766.24,867.97 L765.69,870.10 L766.40,870.34 L767.20,868.29 L768.68,869.04 L767.49,870.89 L768.10,871.33 L769.50,869.63 L770.67,870.80 L768.97,872.20 L769.41,872.81 L771.26,871.62 L772.01,873.10 L769.96,873.90 L770.20,874.61 L772.33,874.06 L772.58,875.69 L770.39,875.82 L770.39,876.58 Z" fill="#0072BD" fill-rule="evenodd"/>
<path d="M800.28,891.41 L800.03,893.04 L797.90,892.49 L797.66,893.20 L799.71,894.00 L798.96,895.48 L797.11,894.29 L796.67,894.90 L798.37,896.30 L797.20,897.47 L795.80,895.77 L795.19,896.21 L796.38,898.06 L794.90,898.81 L794.10,896.76 L793.39,897.00 L793.94,899.13 L792.31,899.38 L792.18,897.19 L791.42,897.19 L791.29,899.38 L789.66,899.13 L790.21,897.00 L789.50,896.76 L788.70,898.81 L787.22,898.06 L788.41,896.21 L787.80,895.77 L786.40,897.47 L785.23,896.30 L786.93,894.90 L786.49,894.29 L784.64,895.48 L783.89,894.00 L785.94,893.20 L785.70,892.49 L783.57,893.04 L783.32,891.41 L785.51,891.28 L785.51,890.52 L783.32,890.39 L783.57,888.76 L785.70,889.31 L785.94,888.60 L783.89,887.80 L784.64,886.32 L786.49,887.51 L786.93,886.90 L785.23,885.50 L786.40,884.33 L787.80,886.03 L788.41,885.59 L787.22,883.74 L788.70,882.99 L789.50,885.04 L790.21,884.80 L789.66,882.67 L791.29,882.42 L791.42,884.61 L792.18,884.61 L792.31,882.42 L793.94,882.67 L793.39,884.80 L794.10,885.04 L794.90,882.99 L796.38,883.74 L795.19,885.59 L795.80,886.03 L797.20,884.33 L798.37,885.50 L796.67,886.90 L797.11,887.51 L798.96,886.32 L799.71,887.80 L797.66,888.60 L797.90,889.31 L800.03,888.76 L800.28,890.39 L798.09,890.52 L798.09,891.28 Z" fill="#0072BD" fill-rule="evenodd"/>
<path d="M855.68,891.41 L855.43,893.04 L853.30,892.49 L853.06,893.20 L855.11,894.00 L854.36,895.48 L852.51,894.29 L852.07,894.90 L853.77,896.30 L852.60,897.47 L851.20,895.77 L850.59,896.21 L851.78,898.06 L850.30,898.81 L849.50,896.76 L848.79,897.00 L849.34,899.13 L847.71,899.38 L847.58,897.19 L846.82,897.19 L846.69,899.38 L845.06,899.13 L845.61,897.00 L844.90,896.76 L844.10,898.81 L842.62,898.06 L843.81,896.21 L843.20,895.77 L841.80,897.47 L840.63,896.30 L842.33,894.90 L841.89,894.29 L840.04,895.48 L839.29,894.00 L841.34,893.20 L841.10,892.49 L838.97,893.04 L838.72,891.41 L840.91,891.28 L840.91,890.52 L838.72,890.39 L838.97,888.76 L841.10,889.31 L841.34,888.60 L839.29,887.80 L840.04,886.32 L841.89,887.51 L842.33,886.90 L840.63,885.50 L841.80,884.33 L843.20,886.03 L843.81,885.59 L842.62,883.74 L844.10,882.99 L844.90,885.04 L845.61,884.80 L845.06,882.67 L846.69,882.42 L846.82,884.61 L847.58,884.61 L847.71,882.42 L849.34,882.67 L848.79,884.80 L849.50,885.04 L850.30,882.99 L851.78,883.74 L850.59,885.59 L851.20,886.03 L852.60,884.33 L853.77,885.50 L852.07,886.90 L852.51,887.51 L854.36,886.32 L855.11,887.80 L853.06,888.60 L853.30,889.31 L855.43,888.76 L855.68,890.39 L853.49,890.52 L853.49,891.28 Z" fill="#0072BD" fill-rule="evenodd"/>
<path d="M883.68,826.61 L883.43,828.24 L881.30,827.69 L881.06,828.40 L883.11,829.20 L882.36,830.68 L880.51,829.49 L880.07,830.10 L881.77,831.50 L880.60,832.67 L879.20,830.97 L878.59,831.41 L879.78,833.26 L878.30,834.01 L877.50,831.96 L876.79,832.20 L877.34,834.33 L875.71,834.58 L875.58,832.39 L874.82,832.39 L874.69,834.58 L873.06,834.33 L873.61,832.20 L872.90,831.96 L872.10,834.01 L870.62,833.26 L871.81,831.41 L871.20,830.97 L869.80,832.67 L868.63,831.50 L870.33,830.10 L869.89,829.49 L868.04,830.68 L867.29,829.20 L869.34,828.40 L869.10,827.69 L866.97,828.24 L866.72,826.61 L868.91,826.48 L868.91,825.72 L866.72,825.59 L866.97,823.96 L869.10,824.51 L869.34,823.80 L867.29,823.00 L868.04,821.52 L869.89,822.71 L870.33,822.10 L868.63,820.70 L869.80,819.53 L871.20,821.23 L871.81,820.79 L870.62,818.94 L872.10,818.19 L872.90,820.24 L873.61,820.00 L873.06,817.87 L874.69,817.62 L874.82,819.81 L875.58,819.81 L875.71,817.62 L877.34,817.87 L876.79,820.00 L877.50,820.24 L878.30,818.19 L879.78,818.94 L878.59,820.79 L879.20,821.23 L880.60,819.53 L881.77,820.70 L880.07,822.10 L880.51,822.71 L882.36,821.52 L883.11,823.00 L881.06,823.80 L881.30,824.51 L883.43,823.96 L883.68,825.59 L881.49,825.72 L881.49,826.48 Z" fill="#0072BD" fill-rule="evenodd"/>
<path d="M911.28,891.41 L911.03,893.04 L908.90,892.49 L908.66,893.20 L910.71,894.00 L909.96,895.48 L908.11,894.29 L907.67,894.90 L909.37,896.30 L908.20,897.47 L906.80,895.77 L906.19,896.21 L907.38,898.06 L905.90,898.81 L905.10,896.76 L904.39,897.00 L904.94,899.13 L903.31,899.38 L903.18,897.19 L902.42,897.19 L902.29,899.38 L900.66,899.13 L901.21,897.00 L900.50,896.76 L899.70,898.81 L898.22,898.06 L899.41,896.21 L898.80,895.77 L897.40,897.47 L896.23,896.30 L897.93,894.90 L897.49,894.29 L895.64,895.48 L894.89,894.00 L896.94,893.20 L896.70,892.49 L894.57,893.04 L894.32,891.41 L896.51,891.28 L896.51,890.52 L894.32,890.39 L894.57,888.76 L896.70,889.31 L896.94,888.60 L894.89,887.80 L895.64,886.32 L897.49,887.51 L897.93,886.90 L896.23,885.50 L897.40,884.33 L898.80,886.03 L899.41,885.59 L898.22,883.74 L899.70,882.99 L900.50,885.04 L901.21,884.80 L900.66,882.67 L902.29,882.42 L902.42,884.61 L903.18,884.61 L903.31,882.42 L904.94,882.67 L904.39,884.80 L905.10,885.04 L905.90,882.99 L907.38,883.74 L906.19,885.59 L906.80,886.03 L908.20,884.33 L909.37,885.50 L907.67,886.90 L908.11,887.51 L909.96,886.32 L910.71,887.80 L908.66,888.60 L908.90,889.31 L911.03,888.76 L911.28,890.39 L909.09,890.52 L909.09,891.28 Z" fill="#0072BD" fill-rule="evenodd"/>
<path d="M96,826 h8 v3 h3 v8 h-3 v3 h-8 v-3 h-3 v-8 h3 z M98,831 h4 v4 h-4 z M115,824 h8 v3 h3 v8 h-3 v3 h-8 v-3 h-3 v-8 h3 z M117,829 h4 v4 h-4 z M135,824 h8 v3 h3 v8 h-3 v3 h-8 v-3 h-3 v-8 h3 z M137,829 h4 v4 h-4 z M154,824 h8 v3 h3 v8 h-3 v3 h-8 v-3 h-3 v-8 h3 z M156,829 h4 v4 h-4 z M173,821 h8 v3 h3 v8 h-3 v3 h-8 v-3 h-3 v-8 h3 z M175,826 h4 v4 h-4 z M192,821 h8 v3 h3 v8 h-3 v3 h-8 v-3 h-3 v-8 h3 z M194,826 h4 v4 h-4 z M212,820 h8 v3 h3 v8 h-3 v3 h-8 v-3 h-3 v-8 h3 z M214,825 h4 v4 h-4 z M231,819 h8 v3 h3 v8 h-3 v3 h-8 v-3 h-3 v-8 h3 z M233,824 h4 v4 h-4 z M250,819 h8 v3 h3 v8 h-3 v3 h-8 v-3 h-3 v-8 h3 z M252,824 h4 v4 h-4 z M269,816 h8 v3 h3 v8 h-3 v3 h-8 v-3 h-3 v-8 h3 z M271,821 h4 v4 h-4 z M289,816 h8 v3 h3 v8 h-3 v3 h-8 v-3 h-3 v-8 h3 z M291,821 h4 v4 h-4 z M308,815 h8 v3 h3 v8 h-3 v3 h-8 v-3 h-3 v-8 h3 z M310,820 h4 v4 h-4 z M327,814 h8 v3 h3 v8 h-3 v3 h-8 v-3 h-3 v-8 h3 z M329,819 h4 v4 h-4 z M347,814 h8 v3 h3 v8 h-3 v3 h-8 v-3 h-3 v-8 h3 z M349,819 h4 v4 h-4 z M366,813 h8 v3 h3 v8 h-3 v3 h-8 v-3 h-3 v-8 h3 z M368,818 h4 v4 h-4 z M385,812 h8 v3 h3 v8 h-3 v3 h-8 v-3 h-3 v-8 h3 z M387,817 h4 v4 h-4 z M404,811 h8 v3 h3 v8 h-3 v3 h-8 v-3 h-3 v-8 h3 z M406,816 h4 v4 h-4 z M424,810 h8 v3 h3 v8 h-3 v3 h-8 v-3 h-3 v-8 h3 z M426,815 h4 v4 h-4 z M443,809 h8 v3 h3 v8 h-3 v3 h-8 v-3 h-3 v-8 h3 z M445,814 h4 v4 h-4 z M462,807 h8 v3 h3 v8 h-3 v3 h-8 v-3 h-3 v-8 h3 z M464,812 h4 v4 h-4 z M482,807 h8 v3 h3 v8 h-3 v3 h-8 v-3 h-3 v-8 h3 z M484,812 h4 v4 h-4 z M501,807 h8 v3 h3 v8 h-3 v3 h-8 v-3 h-3 v-8 h3 z M503,812 h4 v4 h-4 z M520,806 h8 v3 h3 v8 h-3 v3 h-8 v-3 h-3 v-8 h3 z M522,811 h4 v4 h-4 z M539,805 h8 v3 h3 v8 h-3 v3 h-8 v-3 h-3 v-8 h3 z M541,810 h4 v4 h-4 z M559,803 h8 v3 h3 v8 h-3 v3 h-8 v-3 h-3 v-8 h3 z M561,808 h4 v4 h-4 z M578,802 h8 v3 h3 v8 h-3 v3 h-8 v-3 h-3 v-8 h3 z M580,807 h4 v4 h-4 z M597,802 h8 v3 h3 v8 h-3 v3 h-8 v-3 h-3 v-8 h3 z M599,807 h4 v4 h-4 z M616,800 h8 v3 h3 v8 h-3 v3 h-8 v-3 h-3 v-8 h3 z M618,805 h4 v4 h-4 z M636,799 h8 v3 h3 v8 h-3 v3 h-8 v-3 h-3 v-8 h3 z M638,804 h4 v4 h-4 z M655,799 h8 v3 h3 v8 h-3 v3 h-8 v-3 h-3 v-8 h3 z M657,804 h4 v4 h-4 z M674,798 h8 v3 h3 v8 h-3 v3 h-8 v-3 h-3 v-8 h3 z M676,803 h4 v4 h-4 z M694,797 h8 v3 h3 v8 h-3 v3 h-8 v-3 h-3 v-8 h3 z M696,802 h4 v4 h-4 z M713,796 h8 v3 h3 v8 h-3 v3 h-8 v-3 h-3 v-8 h3 z M715,801 h4 v4 h-4 z M732,795 h8 v3 h3 v8 h-3 v3 h-8 v-3 h-3 v-8 h3 z M734,800 h4 v4 h-4 z M751,794 h8 v3 h3 v8 h-3 v3 h-8 v-3 h-3 v-8 h3 z M753,799 h4 v4 h-4 z M771,793 h8 v3 h3 v8 h-3 v3 h-8 v-3 h-3 v-8 h3 z M773,798 h4 v4 h-4 z M790,793 h8 v3 h3 v8 h-3 v3 h-8 v-3 h-3 v-8 h3 z M792,798 h4 v4 h-4 z M809,791 h8 v3 h3 v8 h-3 v3 h-8 v-3 h-3 v-8 h3 z M811,796 h4 v4 h-4 z M829,790 h8 v3 h3 v8 h-3 v3 h-8 v-3 h-3 v-8 h3 z M831,795 h4 v4 h-4 z M848,790 h8 v3 h3 v8 h-3 v3 h-8 v-3 h-3 v-8 h3 z M850,795 h4 v4 h-4 z M867,789 h8 v3 h3 v8 h-3 v3 h-8 v-3 h-3 v-8 h3 z M869,794 h4 v4 h-4 z M886,789 h8 v3 h3 v8 h-3 v3 h-8 v-3 h-3 v-8 h3 z M888,794 h4 v4 h-4 z M906,787 h8 v3 h3 v8 h-3 v3 h-8 v-3 h-3 v-8 h3 z M908,792 h4 v4 h-4 z M925,786 h8 v3 h3 v8 h-3 v3 h-8 v-3 h-3 v-8 h3 z M927,791 h4 v4 h-4 z M944,788 h8 v3 h3 v8 h-3 v3 h-8 v-3 h-3 v-8 h3 z M946,793 h4 v4 h-4 z " fill="#808080" fill-rule="evenodd"/>
<path d="M127.4,700.1V837.1 M117.9,700.1h19 M117.9,837.1h19 M265.5,735.2V921.5 M256,735.2h19 M256,921.5h19 M875.2,714.2V921.5 M865.7,714.2h19 M865.7,921.5h19 " stroke="#0072BD" stroke-width="5.8" fill="none"/>
<g font-family="'Liberation Sans', sans-serif" font-size="29.5" fill="#000">
<text x="95.6" y="958.3" text-anchor="middle">0.5</text>
<text x="219.7" y="958.3" text-anchor="middle">0.52</text>
<text x="341.7" y="958.3" text-anchor="middle">0.54</text>
<text x="463.1" y="958.3" text-anchor="middle">0.56</text>
<text x="582.6" y="958.3" text-anchor="middle">0.58</text>
<text x="709.4" y="958.3" text-anchor="middle">0.6</text>
<text x="829.2" y="958.3" text-anchor="middle">0.62</text>
<text x="949.5" y="958.3" text-anchor="middle">0.64</text>
<text x="86" y="932.6" text-anchor="end">0</text>
<text x="86" y="808.4" text-anchor="end">20</text>
<text x="86" y="684.2" text-anchor="end">40</text>
<text x="86" y="560" text-anchor="end">60</text>
</g>
<text x="522.9" y="1007.5" text-anchor="middle" font-family="'Liberation Sans', sans-serif" font-size="29.5"><tspan font-style="italic">p</tspan> [a.u.]</text>
<text transform="translate(25,736.8) rotate(-90)" text-anchor="middle" font-family="'Liberation Sans', sans-serif" font-size="29.5"><tspan font-family="'Liberation Serif', serif" font-style="italic">δ</tspan> Re {<tspan font-family="'Liberation Serif', serif" font-style="italic">t</tspan><tspan font-size="20" dy="6">0</tspan><tspan dy="-6">}</tspan> [asec]</text>
<text x="-0.7" y="545" font-family="'Liberation Sans', sans-serif" font-size="41.5" font-weight="bold">b</text>
</svg>
</body></html>
